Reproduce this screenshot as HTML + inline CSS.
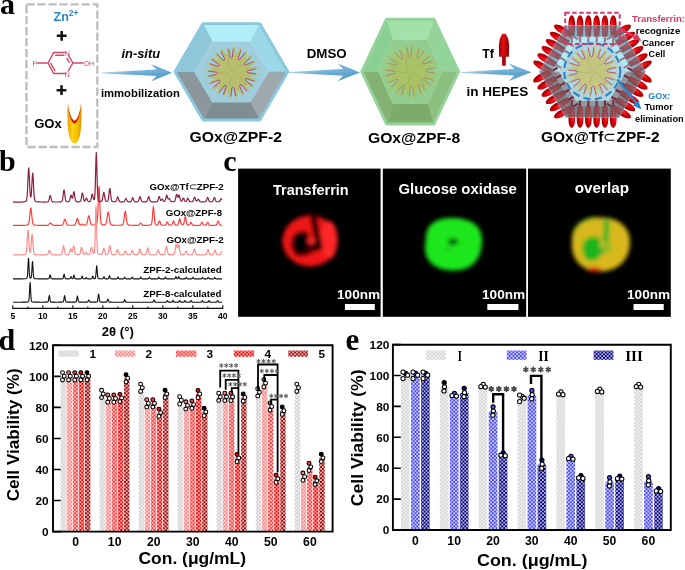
<!DOCTYPE html>
<html><head><meta charset="utf-8"><style>
html,body{margin:0;padding:0;background:#fff;width:685px;height:570px;overflow:hidden}
svg{display:block;will-change:transform}
</style></head><body>
<svg width="685" height="570" viewBox="0 0 685 570">
<defs>
<linearGradient id="gEnz" x1="0" x2="1" y1="0" y2="0">
<stop offset="0" stop-color="#e8a000"/><stop offset="0.35" stop-color="#ffd21a"/><stop offset="0.7" stop-color="#f5c000"/><stop offset="1" stop-color="#d89000"/></linearGradient>
<linearGradient id="gArr" x1="0" x2="1" y1="0" y2="0">
<stop offset="0" stop-color="#b4d8ee"/><stop offset="0.45" stop-color="#78b6dc"/><stop offset="1" stop-color="#66aad4"/></linearGradient>
<linearGradient id="gTf" x1="0" x2="1" y1="0" y2="0">
<stop offset="0" stop-color="#a00008"/><stop offset="0.45" stop-color="#e01010"/><stop offset="1" stop-color="#900008"/></linearGradient>
<radialGradient id="gBul" cx="0.35" cy="0.5" r="0.7">
<stop offset="0" stop-color="#ff3030"/><stop offset="0.45" stop-color="#d80008"/><stop offset="1" stop-color="#880004"/></radialGradient>
<filter id="blur2" x="-30%" y="-30%" width="160%" height="160%"><feGaussianBlur stdDeviation="2.1"/></filter>
<filter id="blur1" x="-30%" y="-30%" width="160%" height="160%"><feGaussianBlur stdDeviation="1.1"/></filter>
<pattern id="pd0" width="3.7" height="3.7" patternUnits="userSpaceOnUse"><rect width="3.7" height="3.7" fill="#d0d0d0"/><rect x="0.15" y="0.15" width="1.55" height="1.55" fill="#fff"/><rect x="2.0" y="2.0" width="1.55" height="1.55" fill="#fff"/></pattern>
<pattern id="pd1" width="3.7" height="3.7" patternUnits="userSpaceOnUse"><rect width="3.7" height="3.7" fill="#ff8080"/><rect x="0.15" y="0.15" width="1.55" height="1.55" fill="#fff"/><rect x="2.0" y="2.0" width="1.55" height="1.55" fill="#fff"/></pattern>
<pattern id="pd2" width="3.7" height="3.7" patternUnits="userSpaceOnUse"><rect width="3.7" height="3.7" fill="#ff3c3c"/><rect x="0.15" y="0.15" width="1.55" height="1.55" fill="#fff"/><rect x="2.0" y="2.0" width="1.55" height="1.55" fill="#fff"/></pattern>
<pattern id="pd3" width="3.7" height="3.7" patternUnits="userSpaceOnUse"><rect width="3.7" height="3.7" fill="#ff0000"/><rect x="0.15" y="0.15" width="1.55" height="1.55" fill="#fff"/><rect x="2.0" y="2.0" width="1.55" height="1.55" fill="#fff"/></pattern>
<pattern id="pd4" width="3.7" height="3.7" patternUnits="userSpaceOnUse"><rect width="3.7" height="3.7" fill="#a00606"/><rect x="0.15" y="0.15" width="1.55" height="1.55" fill="#fff"/><rect x="2.0" y="2.0" width="1.55" height="1.55" fill="#fff"/></pattern>
<pattern id="pe0" width="3.7" height="3.7" patternUnits="userSpaceOnUse"><rect width="3.7" height="3.7" fill="#d4d4d4"/><rect x="0.15" y="0.15" width="1.55" height="1.55" fill="#fff"/><rect x="2.0" y="2.0" width="1.55" height="1.55" fill="#fff"/></pattern>
<pattern id="pe1" width="3.7" height="3.7" patternUnits="userSpaceOnUse"><rect width="3.7" height="3.7" fill="#4a4af4"/><rect x="0.15" y="0.15" width="1.55" height="1.55" fill="#fff"/><rect x="2.0" y="2.0" width="1.55" height="1.55" fill="#fff"/></pattern>
<pattern id="pe2" width="3.7" height="3.7" patternUnits="userSpaceOnUse"><rect width="3.7" height="3.7" fill="#00007e"/><rect x="0.15" y="0.15" width="1.55" height="1.55" fill="#fff"/><rect x="2.0" y="2.0" width="1.55" height="1.55" fill="#fff"/></pattern>
</defs>
<rect width="685" height="570" fill="#fff"/>
<text x="0" y="13.8" font-size="30" fill="#000" text-anchor="start" style="font-family:'Liberation Serif',serif;font-weight:bold" >a</text>
<rect x="26.5" y="4.4" width="70.8" height="142.6" fill="none" stroke="#bdbdbd" stroke-width="2.3" stroke-dasharray="8.2 2.8"/>
<text x="53.5" y="20.8" style="font-family:'Liberation Sans',sans-serif;font-weight:bold" font-size="12.5" fill="#2e86cc">Zn<tspan font-size="8.5" dy="-4.5">2+</tspan></text>
<path d="M56.8 35.8H66.6M61.7 30.9V40.7" stroke="#111" stroke-width="2.5"/>
<path d="M56.6 90.2H66.4M61.5 85.3V95.1" stroke="#111" stroke-width="2.5"/>
<g stroke="#d24a68" stroke-width="1.45" fill="none">
<path d="M48 63L53.7 52.5H65.5M68 54.5L72.8 63L68 71.5M65.5 73.5H53.7L48 63"/>
<path d="M55.2 55.2H64.3M50.6 63.2L55.3 71M69.6 62.8L66.6 57.8"/>
<path d="M36.5 63H48M72.8 63H83.5"/>
</g>
<g style="font-family:'Liberation Sans',sans-serif" font-size="7.6" fill="#d24a68">
<text x="64.6" y="55.6">N</text><text x="64.6" y="77">N</text>
<text x="32.4" y="65.8">F</text><text x="83.4" y="65.8" textLength="10.6" lengthAdjust="spacingAndGlyphs">OH</text>
</g>
<text x="34.2" y="127.6" font-size="12.2" fill="#000" text-anchor="start" style="font-family:'Liberation Sans',sans-serif;font-weight:bold" textLength="27.6" lengthAdjust="spacingAndGlyphs" >GOx</text>
<path d="M67.9 103 C67 115 67.3 131 69.8 138 C71.2 142 72.8 143.6 74.5 143.6 C76.2 143.6 77.8 142 79.2 138 C81.7 131 82 115 81.1 103 C80.3 112 77.8 119.5 74.5 120.8 C71.2 119.5 68.7 112 67.9 103Z" fill="url(#gEnz)"/>
<path d="M67.9 103 C68.7 112 71.2 119.5 74.5 120.8 C77.8 119.5 80.3 112 81.1 103 C80.6 114 78 122.5 74.5 123.8 C71 122.5 68.4 114 67.9 103Z" fill="#dc1414"/>
<path d="M102 72.4 L156.5 69.5 L151 64 Q163.1 69.1 172.2 72.8 Q163.1 76.5 151 81.6 L156.5 76.1 L102 73.2 Z" fill="url(#gArr)"/><path d="M102 72.8 L172.2 72.8 Q163.1 76.5 151 81.6 L156.5 76.1 L102 73.2 Z" fill="#2a6e9e" fill-opacity="0.16"/>
<path d="M288.8 72 L343.2 69.1 L337.7 63.6 Q350.35 68.7 360 72.4 Q350.35 76.1 337.7 81.2 L343.2 75.7 L288.8 72.8 Z" fill="url(#gArr)"/><path d="M288.8 72.4 L360 72.4 Q350.35 76.1 337.7 81.2 L343.2 75.7 L288.8 72.8 Z" fill="#2a6e9e" fill-opacity="0.16"/>
<path d="M461.2 71.9 L514.4 69 L508.9 63.5 Q521.7 68.6 531.5 72.3 Q521.7 76 508.9 81.1 L514.4 75.6 L461.2 72.7 Z" fill="url(#gArr)"/><path d="M461.2 72.3 L531.5 72.3 Q521.7 76 508.9 81.1 L514.4 75.6 L461.2 72.7 Z" fill="#2a6e9e" fill-opacity="0.16"/>
<text x="121.5" y="57.8" style="font-family:'Liberation Sans',sans-serif;font-weight:bold;font-style:italic" font-size="13" textLength="38.6" lengthAdjust="spacingAndGlyphs">in-situ</text>
<text x="100.9" y="97.1" font-size="11.3" fill="#000" text-anchor="start" style="font-family:'Liberation Sans',sans-serif;font-weight:bold" textLength="79" lengthAdjust="spacingAndGlyphs" >immobilization</text>
<text x="306.7" y="57.6" font-size="13.2" fill="#000" text-anchor="start" style="font-family:'Liberation Sans',sans-serif;font-weight:bold" textLength="40" lengthAdjust="spacingAndGlyphs" >DMSO</text>
<text x="482.2" y="57.8" font-size="13.5" fill="#000" text-anchor="start" style="font-family:'Liberation Sans',sans-serif;font-weight:bold" textLength="11.8" lengthAdjust="spacingAndGlyphs" >Tf</text>
<text x="466.4" y="96" font-size="13.5" fill="#000" text-anchor="start" style="font-family:'Liberation Sans',sans-serif;font-weight:bold" textLength="61.8" lengthAdjust="spacingAndGlyphs" >in HEPES</text>
<path d="M499.1 56.8 L498.9 47 C498.9 39.5 501.2 33.6 504 33.6 C506.8 33.6 509.1 39.5 509.1 47 L508.9 56.8 Z" fill="url(#gTf)"/>
<rect x="502.1" y="56" width="3.7" height="9.7" fill="#b00010"/>
<polygon points="203.1,23.6 259.7,23.6 250.4,41.4 212.4,41.4" fill="#b0eef8" stroke="#b0eef8" stroke-width="0.4"/>
<polygon points="259.7,23.6 287.8,71.8 268.7,71.8 250.4,41.4" fill="#9ad8ea" stroke="#9ad8ea" stroke-width="0.4"/>
<polygon points="287.8,71.8 259.7,120 250.4,102.2 268.7,71.8" fill="#9ea8ae" stroke="#9ea8ae" stroke-width="0.4"/>
<polygon points="259.7,120 203.1,120 212.4,102.2 250.4,102.2" fill="#7e8c93" stroke="#7e8c93" stroke-width="0.4"/>
<polygon points="203.1,120 175,71.8 194.1,71.8 212.4,102.2" fill="#8b979d" stroke="#8b979d" stroke-width="0.4"/>
<polygon points="175,71.8 203.1,23.6 212.4,41.4 194.1,71.8" fill="#8ec6da" stroke="#8ec6da" stroke-width="0.4"/>
<polygon points="212.4,41.4 250.4,41.4 268.7,71.8 250.4,102.2 212.4,102.2 194.1,71.8" fill="#a0cddd" />
<polygon points="203.1,23.6 259.7,23.6 287.8,71.8 259.7,120 203.1,120 175,71.8" fill="none" stroke="#8ac8de" stroke-width="2.9" stroke-linejoin="round"/>
<polygon points="226.52,55.18 226.64,51.19 226.8,45.41 228.75,48.23 229.83,53.64 230.42,56.99 231.39,58.32 232.22,56.9 232.48,53.5 233.01,48.02 234.67,45.02 235.4,50.75 235.93,54.71 238.03,51.31 241.06,46.39 241.33,49.81 239.57,55.03 238.4,58.23 238.58,59.86 240,59.05 241.92,56.24 245.13,51.75 248.06,49.98 245.84,55.31 244.31,59 247.83,57.12 252.91,54.37 251.44,57.46 247.3,61.1 244.69,63.29 244.03,64.79 245.67,64.8 248.74,63.33 253.76,61.05 257.18,60.98 252.59,64.49 249.42,66.92 253.41,67.04 259.19,67.2 256.37,69.15 250.96,70.23 247.61,70.82 246.28,71.79 247.7,72.62 251.1,72.88 256.58,73.41 259.58,75.07 253.85,75.8 249.89,76.33 253.29,78.43 258.21,81.46 254.79,81.73 249.57,79.97 246.37,78.8 244.74,78.98 245.55,80.4 248.36,82.32 252.85,85.53 254.62,88.46 249.29,86.24 245.6,84.71 247.48,88.23 250.23,93.31 247.14,91.84 243.5,87.7 241.31,85.09 239.81,84.43 239.8,86.07 241.27,89.14 243.55,94.16 243.62,97.58 240.11,92.99 237.68,89.82 237.56,93.81 237.4,99.59 235.45,96.77 234.37,91.36 233.78,88.01 232.81,86.68 231.98,88.1 231.72,91.5 231.19,96.98 229.53,99.98 228.8,94.25 228.27,90.29 226.17,93.69 223.14,98.61 222.87,95.19 224.63,89.97 225.8,86.77 225.62,85.14 224.2,85.95 222.28,88.76 219.07,93.25 216.14,95.02 218.36,89.69 219.89,86 216.37,87.88 211.29,90.63 212.76,87.54 216.9,83.9 219.51,81.71 220.17,80.21 218.53,80.2 215.46,81.67 210.44,83.95 207.02,84.02 211.61,80.51 214.78,78.08 210.79,77.96 205.01,77.8 207.83,75.85 213.24,74.77 216.59,74.18 217.92,73.21 216.5,72.38 213.1,72.12 207.62,71.59 204.62,69.93 210.35,69.2 214.31,68.67 210.91,66.57 205.99,63.54 209.41,63.27 214.63,65.03 217.83,66.2 219.46,66.02 218.65,64.6 215.84,62.68 211.35,59.47 209.58,56.54 214.91,58.76 218.6,60.29 216.72,56.77 213.97,51.69 217.06,53.16 220.7,57.3 222.89,59.91 224.39,60.57 224.4,58.93 222.93,55.86 220.65,50.84 220.58,47.42 224.09,52.01" fill="#b9bd6e" />
<polyline points="228.64,49.26 229.57,53.67 230.24,57.01 231.37,57.92 232.41,56.9 232.74,53.51 233.22,49.03" stroke="#ae4a78" stroke-width="1" fill="none" stroke-linejoin="round" stroke-linecap="round"/>
<polyline points="240.73,50.64 239.32,54.93 238.23,58.15 238.76,59.51 240.17,59.15 242.15,56.38 244.81,52.73" stroke="#ae4a78" stroke-width="1" fill="none" stroke-linejoin="round" stroke-linecap="round"/>
<polyline points="250.5,57.88 247.14,60.89 244.58,63.14 244.36,64.58 245.76,64.97 248.87,63.56 252.99,61.73" stroke="#ae4a78" stroke-width="1" fill="none" stroke-linejoin="round" stroke-linecap="round"/>
<polyline points="255.34,69.04 250.93,69.97 247.59,70.64 246.68,71.77 247.7,72.81 251.09,73.14 255.57,73.62" stroke="#ae4a78" stroke-width="1" fill="none" stroke-linejoin="round" stroke-linecap="round"/>
<polyline points="253.96,81.13 249.67,79.72 246.45,78.63 245.09,79.16 245.45,80.57 248.22,82.55 251.87,85.21" stroke="#ae4a78" stroke-width="1" fill="none" stroke-linejoin="round" stroke-linecap="round"/>
<polyline points="246.72,90.9 243.71,87.54 241.46,84.98 240.02,84.76 239.63,86.16 241.04,89.27 242.87,93.39" stroke="#ae4a78" stroke-width="1" fill="none" stroke-linejoin="round" stroke-linecap="round"/>
<polyline points="235.56,95.74 234.63,91.33 233.96,87.99 232.83,87.08 231.79,88.1 231.46,91.49 230.98,95.97" stroke="#ae4a78" stroke-width="1" fill="none" stroke-linejoin="round" stroke-linecap="round"/>
<polyline points="223.47,94.36 224.88,90.07 225.97,86.85 225.44,85.49 224.03,85.85 222.05,88.62 219.39,92.27" stroke="#ae4a78" stroke-width="1" fill="none" stroke-linejoin="round" stroke-linecap="round"/>
<polyline points="213.7,87.12 217.06,84.11 219.62,81.86 219.84,80.42 218.44,80.03 215.33,81.44 211.21,83.27" stroke="#ae4a78" stroke-width="1" fill="none" stroke-linejoin="round" stroke-linecap="round"/>
<polyline points="208.86,75.96 213.27,75.03 216.61,74.36 217.52,73.23 216.5,72.19 213.11,71.86 208.63,71.38" stroke="#ae4a78" stroke-width="1" fill="none" stroke-linejoin="round" stroke-linecap="round"/>
<polyline points="210.24,63.87 214.53,65.28 217.75,66.37 219.11,65.84 218.75,64.43 215.98,62.45 212.33,59.79" stroke="#ae4a78" stroke-width="1" fill="none" stroke-linejoin="round" stroke-linecap="round"/>
<polyline points="217.48,54.1 220.49,57.46 222.74,60.02 224.18,60.24 224.57,58.84 223.16,55.73 221.33,51.61" stroke="#ae4a78" stroke-width="1" fill="none" stroke-linejoin="round" stroke-linecap="round"/>
<path d="M234.01 73.09 Q243.37 76.61 245.96 88.28" stroke="#8aa860" stroke-width="0.7" fill="none" opacity="0.6"/>
<path d="M232.13 74.5 Q231.67 84.49 221.38 90.56" stroke="#8aa860" stroke-width="0.7" fill="none" opacity="0.6"/>
<path d="M230.21 73.14 Q220.56 75.8 211.61 67.88" stroke="#8aa860" stroke-width="0.7" fill="none" opacity="0.6"/>
<path d="M230.9 70.9 Q225.4 62.55 230.16 51.59" stroke="#8aa860" stroke-width="0.7" fill="none" opacity="0.6"/>
<path d="M233.25 70.87 Q239.5 63.05 251.39 64.19" stroke="#8aa860" stroke-width="0.7" fill="none" opacity="0.6"/>
<text x="189.6" y="142.1" font-size="15" fill="#000" text-anchor="start" style="font-family:'Liberation Sans',sans-serif;font-weight:bold" textLength="92.4" lengthAdjust="spacingAndGlyphs" >GOx@ZPF-2</text>
<polygon points="386.5,19.2 433.9,19.2 427.7,39.8 392.7,39.8" fill="#a2e2aa" stroke="#a2e2aa" stroke-width="0.4"/>
<polygon points="433.9,19.2 458.6,71.6 442,71.6 427.7,39.8" fill="#92d49a" stroke="#92d49a" stroke-width="0.4"/>
<polygon points="458.6,71.6 433.9,124 427.7,103.4 442,71.6" fill="#8cbf80" stroke="#8cbf80" stroke-width="0.4"/>
<polygon points="433.9,124 386.5,124 392.7,103.4 427.7,103.4" fill="#7cab6c" stroke="#7cab6c" stroke-width="0.4"/>
<polygon points="386.5,124 361.8,71.6 378.4,71.6 392.7,103.4" fill="#84b274" stroke="#84b274" stroke-width="0.4"/>
<polygon points="361.8,71.6 386.5,19.2 392.7,39.8 378.4,71.6" fill="#8ccf92" stroke="#8ccf92" stroke-width="0.4"/>
<polygon points="392.7,39.8 427.7,39.8 442,71.6 427.7,103.4 392.7,103.4 378.4,71.6" fill="#93cd8f" />
<polygon points="386.5,19.2 433.9,19.2 458.6,71.6 433.9,124 386.5,124 361.8,71.6" fill="none" stroke="#94d49c" stroke-width="2.9" stroke-linejoin="round"/>
<polygon points="404.81,53.93 404.93,49.86 405.1,43.97 407.08,46.85 408.18,52.36 408.79,55.78 409.78,57.13 410.62,55.69 410.88,52.22 411.43,46.63 413.12,43.57 413.87,49.41 414.4,53.45 416.55,49.99 419.64,44.97 419.92,48.45 418.11,53.78 416.93,57.05 417.11,58.71 418.56,57.88 420.52,55.01 423.79,50.44 426.78,48.63 424.51,54.07 422.95,57.83 426.54,55.91 431.73,53.11 430.23,56.26 426.01,59.97 423.35,62.21 422.67,63.74 424.34,63.75 427.47,62.24 432.59,59.92 436.08,59.85 431.4,63.43 428.17,65.91 432.24,66.03 438.13,66.2 435.25,68.18 429.74,69.28 426.32,69.89 424.97,70.88 426.41,71.72 429.88,71.98 435.47,72.53 438.53,74.22 432.69,74.97 428.65,75.5 432.11,77.65 437.13,80.74 433.65,81.02 428.32,79.21 425.05,78.03 423.39,78.21 424.22,79.66 427.09,81.62 431.66,84.89 433.47,87.88 428.03,85.61 424.27,84.05 426.19,87.64 428.99,92.83 425.84,91.33 422.13,87.11 419.89,84.45 418.36,83.77 418.35,85.44 419.86,88.57 422.18,93.69 422.25,97.18 418.67,92.5 416.19,89.27 416.07,93.34 415.9,99.23 413.92,96.35 412.82,90.84 412.21,87.42 411.22,86.07 410.38,87.51 410.12,90.98 409.57,96.57 407.88,99.63 407.13,93.79 406.6,89.75 404.45,93.21 401.36,98.23 401.08,94.75 402.89,89.42 404.07,86.15 403.89,84.49 402.44,85.32 400.48,88.19 397.21,92.76 394.22,94.57 396.49,89.13 398.05,85.37 394.46,87.29 389.27,90.09 390.77,86.94 394.99,83.23 397.65,80.99 398.33,79.46 396.66,79.45 393.53,80.96 388.41,83.28 384.92,83.35 389.6,79.77 392.83,77.29 388.76,77.17 382.87,77 385.75,75.02 391.26,73.92 394.68,73.31 396.03,72.32 394.59,71.48 391.12,71.22 385.53,70.67 382.47,68.98 388.31,68.23 392.35,67.7 388.89,65.55 383.87,62.46 387.35,62.18 392.68,63.99 395.95,65.17 397.61,64.99 396.78,63.54 393.91,61.58 389.34,58.31 387.53,55.32 392.97,57.59 396.73,59.15 394.81,55.56 392.01,50.37 395.16,51.87 398.87,56.09 401.11,58.75 402.64,59.43 402.65,57.76 401.14,54.63 398.82,49.51 398.75,46.02 402.33,50.7" fill="#a8c266" />
<polyline points="406.97,47.89 407.92,52.39 408.6,55.8 409.76,56.73 410.82,55.69 411.15,52.23 411.64,47.66" stroke="#a88c70" stroke-width="1" fill="none" stroke-linejoin="round" stroke-linecap="round"/>
<polyline points="419.3,49.3 417.86,53.67 416.75,56.97 417.29,58.35 418.73,57.98 420.75,55.15 423.46,51.44" stroke="#a88c70" stroke-width="1" fill="none" stroke-linejoin="round" stroke-linecap="round"/>
<polyline points="429.27,56.69 425.84,59.76 423.23,62.05 423.01,63.52 424.44,63.92 427.6,62.48 431.81,60.62" stroke="#a88c70" stroke-width="1" fill="none" stroke-linejoin="round" stroke-linecap="round"/>
<polyline points="434.21,68.07 429.71,69.02 426.3,69.7 425.37,70.86 426.41,71.92 429.87,72.25 434.44,72.74" stroke="#a88c70" stroke-width="1" fill="none" stroke-linejoin="round" stroke-linecap="round"/>
<polyline points="432.8,80.4 428.43,78.96 425.13,77.85 423.75,78.39 424.12,79.83 426.95,81.85 430.66,84.56" stroke="#a88c70" stroke-width="1" fill="none" stroke-linejoin="round" stroke-linecap="round"/>
<polyline points="425.41,90.37 422.34,86.94 420.05,84.33 418.58,84.11 418.18,85.54 419.62,88.7 421.48,92.91" stroke="#a88c70" stroke-width="1" fill="none" stroke-linejoin="round" stroke-linecap="round"/>
<polyline points="414.03,95.31 413.08,90.81 412.4,87.4 411.24,86.47 410.18,87.51 409.85,90.97 409.36,95.54" stroke="#a88c70" stroke-width="1" fill="none" stroke-linejoin="round" stroke-linecap="round"/>
<polyline points="401.7,93.9 403.14,89.53 404.25,86.23 403.71,84.85 402.27,85.22 400.25,88.05 397.54,91.76" stroke="#a88c70" stroke-width="1" fill="none" stroke-linejoin="round" stroke-linecap="round"/>
<polyline points="391.73,86.51 395.16,83.44 397.77,81.15 397.99,79.68 396.56,79.28 393.4,80.72 389.19,82.58" stroke="#a88c70" stroke-width="1" fill="none" stroke-linejoin="round" stroke-linecap="round"/>
<polyline points="386.79,75.13 391.29,74.18 394.7,73.5 395.63,72.34 394.59,71.28 391.13,70.95 386.56,70.46" stroke="#a88c70" stroke-width="1" fill="none" stroke-linejoin="round" stroke-linecap="round"/>
<polyline points="388.2,62.8 392.57,64.24 395.87,65.35 397.25,64.81 396.88,63.37 394.05,61.35 390.34,58.64" stroke="#a88c70" stroke-width="1" fill="none" stroke-linejoin="round" stroke-linecap="round"/>
<polyline points="395.59,52.83 398.66,56.26 400.95,58.87 402.42,59.09 402.82,57.66 401.38,54.5 399.52,50.29" stroke="#a88c70" stroke-width="1" fill="none" stroke-linejoin="round" stroke-linecap="round"/>
<path d="M412.41 72.19 Q422 75.8 424.64 87.69" stroke="#86a858" stroke-width="0.7" fill="none" opacity="0.6"/>
<path d="M410.53 73.6 Q410.06 83.83 399.56 90.02" stroke="#86a858" stroke-width="0.7" fill="none" opacity="0.6"/>
<path d="M408.61 72.24 Q398.73 74.96 389.6 66.89" stroke="#86a858" stroke-width="0.7" fill="none" opacity="0.6"/>
<path d="M409.3 70 Q403.66 61.45 408.52 50.27" stroke="#86a858" stroke-width="0.7" fill="none" opacity="0.6"/>
<path d="M411.65 69.97 Q418.04 61.96 430.17 63.13" stroke="#86a858" stroke-width="0.7" fill="none" opacity="0.6"/>
<text x="367.9" y="143.4" font-size="15" fill="#000" text-anchor="start" style="font-family:'Liberation Sans',sans-serif;font-weight:bold" textLength="92.3" lengthAdjust="spacingAndGlyphs" >GOx@ZPF-8</text>
<polygon points="566,25.6 619,25.6 645.5,71.5 619,117.4 566,117.4 539.5,71.5" fill="#b2eaf6" />
<polygon points="645.5,71.5 619,117.4 566,117.4 539.5,71.5 559,71.5 575.75,100.51 609.25,100.51 626,71.5" fill="#8f999f" />
<g transform="translate(571.75 25.6) rotate(0)"><path d="M-3.3 -1.5 C-3.3 -7.5 -1.6 -10.3 0 -10.3 C1.6 -10.3 3.3 -7.5 3.3 -1.5 L3.3 0 C3.3 3 2.6 8.5 2.6 11 L-2.6 11 C-2.6 8.5 -3.3 3 -3.3 0Z" fill="url(#gBul)"/></g>
<g transform="translate(580.05 25.6) rotate(0)"><path d="M-3.3 -1.5 C-3.3 -7.5 -1.6 -10.3 0 -10.3 C1.6 -10.3 3.3 -7.5 3.3 -1.5 L3.3 0 C3.3 3 2.6 8.5 2.6 11 L-2.6 11 C-2.6 8.5 -3.3 3 -3.3 0Z" fill="url(#gBul)"/></g>
<g transform="translate(588.35 25.6) rotate(0)"><path d="M-3.3 -1.5 C-3.3 -7.5 -1.6 -10.3 0 -10.3 C1.6 -10.3 3.3 -7.5 3.3 -1.5 L3.3 0 C3.3 3 2.6 8.5 2.6 11 L-2.6 11 C-2.6 8.5 -3.3 3 -3.3 0Z" fill="url(#gBul)"/></g>
<g transform="translate(596.65 25.6) rotate(0)"><path d="M-3.3 -1.5 C-3.3 -7.5 -1.6 -10.3 0 -10.3 C1.6 -10.3 3.3 -7.5 3.3 -1.5 L3.3 0 C3.3 3 2.6 8.5 2.6 11 L-2.6 11 C-2.6 8.5 -3.3 3 -3.3 0Z" fill="url(#gBul)"/></g>
<g transform="translate(604.95 25.6) rotate(0)"><path d="M-3.3 -1.5 C-3.3 -7.5 -1.6 -10.3 0 -10.3 C1.6 -10.3 3.3 -7.5 3.3 -1.5 L3.3 0 C3.3 3 2.6 8.5 2.6 11 L-2.6 11 C-2.6 8.5 -3.3 3 -3.3 0Z" fill="url(#gBul)"/></g>
<g transform="translate(613.25 25.6) rotate(0)"><path d="M-3.3 -1.5 C-3.3 -7.5 -1.6 -10.3 0 -10.3 C1.6 -10.3 3.3 -7.5 3.3 -1.5 L3.3 0 C3.3 3 2.6 8.5 2.6 11 L-2.6 11 C-2.6 8.5 -3.3 3 -3.3 0Z" fill="url(#gBul)"/></g>
<g transform="translate(621.88 30.58) rotate(60)"><path d="M-3.3 -1.5 C-3.3 -7.5 -1.6 -10.3 0 -10.3 C1.6 -10.3 3.3 -7.5 3.3 -1.5 L3.3 0 C3.3 3 2.6 8.5 2.6 11 L-2.6 11 C-2.6 8.5 -3.3 3 -3.3 0Z" fill="url(#gBul)"/></g>
<g transform="translate(626.02 37.77) rotate(60)"><path d="M-3.3 -1.5 C-3.3 -7.5 -1.6 -10.3 0 -10.3 C1.6 -10.3 3.3 -7.5 3.3 -1.5 L3.3 0 C3.3 3 2.6 8.5 2.6 11 L-2.6 11 C-2.6 8.5 -3.3 3 -3.3 0Z" fill="url(#gBul)"/></g>
<g transform="translate(630.17 44.96) rotate(60)"><path d="M-3.3 -1.5 C-3.3 -7.5 -1.6 -10.3 0 -10.3 C1.6 -10.3 3.3 -7.5 3.3 -1.5 L3.3 0 C3.3 3 2.6 8.5 2.6 11 L-2.6 11 C-2.6 8.5 -3.3 3 -3.3 0Z" fill="url(#gBul)"/></g>
<g transform="translate(634.33 52.14) rotate(60)"><path d="M-3.3 -1.5 C-3.3 -7.5 -1.6 -10.3 0 -10.3 C1.6 -10.3 3.3 -7.5 3.3 -1.5 L3.3 0 C3.3 3 2.6 8.5 2.6 11 L-2.6 11 C-2.6 8.5 -3.3 3 -3.3 0Z" fill="url(#gBul)"/></g>
<g transform="translate(638.48 59.33) rotate(60)"><path d="M-3.3 -1.5 C-3.3 -7.5 -1.6 -10.3 0 -10.3 C1.6 -10.3 3.3 -7.5 3.3 -1.5 L3.3 0 C3.3 3 2.6 8.5 2.6 11 L-2.6 11 C-2.6 8.5 -3.3 3 -3.3 0Z" fill="url(#gBul)"/></g>
<g transform="translate(642.62 66.52) rotate(60)"><path d="M-3.3 -1.5 C-3.3 -7.5 -1.6 -10.3 0 -10.3 C1.6 -10.3 3.3 -7.5 3.3 -1.5 L3.3 0 C3.3 3 2.6 8.5 2.6 11 L-2.6 11 C-2.6 8.5 -3.3 3 -3.3 0Z" fill="url(#gBul)"/></g>
<g transform="translate(642.62 76.48) rotate(120)"><path d="M-3.3 -1.5 C-3.3 -7.5 -1.6 -10.3 0 -10.3 C1.6 -10.3 3.3 -7.5 3.3 -1.5 L3.3 0 C3.3 3 2.6 8.5 2.6 11 L-2.6 11 C-2.6 8.5 -3.3 3 -3.3 0Z" fill="url(#gBul)"/></g>
<g transform="translate(638.48 83.67) rotate(120)"><path d="M-3.3 -1.5 C-3.3 -7.5 -1.6 -10.3 0 -10.3 C1.6 -10.3 3.3 -7.5 3.3 -1.5 L3.3 0 C3.3 3 2.6 8.5 2.6 11 L-2.6 11 C-2.6 8.5 -3.3 3 -3.3 0Z" fill="url(#gBul)"/></g>
<g transform="translate(634.33 90.86) rotate(120)"><path d="M-3.3 -1.5 C-3.3 -7.5 -1.6 -10.3 0 -10.3 C1.6 -10.3 3.3 -7.5 3.3 -1.5 L3.3 0 C3.3 3 2.6 8.5 2.6 11 L-2.6 11 C-2.6 8.5 -3.3 3 -3.3 0Z" fill="url(#gBul)"/></g>
<g transform="translate(630.17 98.04) rotate(120)"><path d="M-3.3 -1.5 C-3.3 -7.5 -1.6 -10.3 0 -10.3 C1.6 -10.3 3.3 -7.5 3.3 -1.5 L3.3 0 C3.3 3 2.6 8.5 2.6 11 L-2.6 11 C-2.6 8.5 -3.3 3 -3.3 0Z" fill="url(#gBul)"/></g>
<g transform="translate(626.02 105.23) rotate(120)"><path d="M-3.3 -1.5 C-3.3 -7.5 -1.6 -10.3 0 -10.3 C1.6 -10.3 3.3 -7.5 3.3 -1.5 L3.3 0 C3.3 3 2.6 8.5 2.6 11 L-2.6 11 C-2.6 8.5 -3.3 3 -3.3 0Z" fill="url(#gBul)"/></g>
<g transform="translate(621.88 112.42) rotate(120)"><path d="M-3.3 -1.5 C-3.3 -7.5 -1.6 -10.3 0 -10.3 C1.6 -10.3 3.3 -7.5 3.3 -1.5 L3.3 0 C3.3 3 2.6 8.5 2.6 11 L-2.6 11 C-2.6 8.5 -3.3 3 -3.3 0Z" fill="url(#gBul)"/></g>
<g transform="translate(613.25 117.4) rotate(180)"><path d="M-3.3 -1.5 C-3.3 -7.5 -1.6 -10.3 0 -10.3 C1.6 -10.3 3.3 -7.5 3.3 -1.5 L3.3 0 C3.3 3 2.6 8.5 2.6 11 L-2.6 11 C-2.6 8.5 -3.3 3 -3.3 0Z" fill="url(#gBul)"/></g>
<g transform="translate(604.95 117.4) rotate(180)"><path d="M-3.3 -1.5 C-3.3 -7.5 -1.6 -10.3 0 -10.3 C1.6 -10.3 3.3 -7.5 3.3 -1.5 L3.3 0 C3.3 3 2.6 8.5 2.6 11 L-2.6 11 C-2.6 8.5 -3.3 3 -3.3 0Z" fill="url(#gBul)"/></g>
<g transform="translate(596.65 117.4) rotate(180)"><path d="M-3.3 -1.5 C-3.3 -7.5 -1.6 -10.3 0 -10.3 C1.6 -10.3 3.3 -7.5 3.3 -1.5 L3.3 0 C3.3 3 2.6 8.5 2.6 11 L-2.6 11 C-2.6 8.5 -3.3 3 -3.3 0Z" fill="url(#gBul)"/></g>
<g transform="translate(588.35 117.4) rotate(180)"><path d="M-3.3 -1.5 C-3.3 -7.5 -1.6 -10.3 0 -10.3 C1.6 -10.3 3.3 -7.5 3.3 -1.5 L3.3 0 C3.3 3 2.6 8.5 2.6 11 L-2.6 11 C-2.6 8.5 -3.3 3 -3.3 0Z" fill="url(#gBul)"/></g>
<g transform="translate(580.05 117.4) rotate(180)"><path d="M-3.3 -1.5 C-3.3 -7.5 -1.6 -10.3 0 -10.3 C1.6 -10.3 3.3 -7.5 3.3 -1.5 L3.3 0 C3.3 3 2.6 8.5 2.6 11 L-2.6 11 C-2.6 8.5 -3.3 3 -3.3 0Z" fill="url(#gBul)"/></g>
<g transform="translate(571.75 117.4) rotate(180)"><path d="M-3.3 -1.5 C-3.3 -7.5 -1.6 -10.3 0 -10.3 C1.6 -10.3 3.3 -7.5 3.3 -1.5 L3.3 0 C3.3 3 2.6 8.5 2.6 11 L-2.6 11 C-2.6 8.5 -3.3 3 -3.3 0Z" fill="url(#gBul)"/></g>
<g transform="translate(563.12 112.42) rotate(240)"><path d="M-3.3 -1.5 C-3.3 -7.5 -1.6 -10.3 0 -10.3 C1.6 -10.3 3.3 -7.5 3.3 -1.5 L3.3 0 C3.3 3 2.6 8.5 2.6 11 L-2.6 11 C-2.6 8.5 -3.3 3 -3.3 0Z" fill="url(#gBul)"/></g>
<g transform="translate(558.98 105.23) rotate(240)"><path d="M-3.3 -1.5 C-3.3 -7.5 -1.6 -10.3 0 -10.3 C1.6 -10.3 3.3 -7.5 3.3 -1.5 L3.3 0 C3.3 3 2.6 8.5 2.6 11 L-2.6 11 C-2.6 8.5 -3.3 3 -3.3 0Z" fill="url(#gBul)"/></g>
<g transform="translate(554.83 98.04) rotate(240)"><path d="M-3.3 -1.5 C-3.3 -7.5 -1.6 -10.3 0 -10.3 C1.6 -10.3 3.3 -7.5 3.3 -1.5 L3.3 0 C3.3 3 2.6 8.5 2.6 11 L-2.6 11 C-2.6 8.5 -3.3 3 -3.3 0Z" fill="url(#gBul)"/></g>
<g transform="translate(550.67 90.86) rotate(240)"><path d="M-3.3 -1.5 C-3.3 -7.5 -1.6 -10.3 0 -10.3 C1.6 -10.3 3.3 -7.5 3.3 -1.5 L3.3 0 C3.3 3 2.6 8.5 2.6 11 L-2.6 11 C-2.6 8.5 -3.3 3 -3.3 0Z" fill="url(#gBul)"/></g>
<g transform="translate(546.52 83.67) rotate(240)"><path d="M-3.3 -1.5 C-3.3 -7.5 -1.6 -10.3 0 -10.3 C1.6 -10.3 3.3 -7.5 3.3 -1.5 L3.3 0 C3.3 3 2.6 8.5 2.6 11 L-2.6 11 C-2.6 8.5 -3.3 3 -3.3 0Z" fill="url(#gBul)"/></g>
<g transform="translate(542.38 76.48) rotate(240)"><path d="M-3.3 -1.5 C-3.3 -7.5 -1.6 -10.3 0 -10.3 C1.6 -10.3 3.3 -7.5 3.3 -1.5 L3.3 0 C3.3 3 2.6 8.5 2.6 11 L-2.6 11 C-2.6 8.5 -3.3 3 -3.3 0Z" fill="url(#gBul)"/></g>
<g transform="translate(542.38 66.52) rotate(300)"><path d="M-3.3 -1.5 C-3.3 -7.5 -1.6 -10.3 0 -10.3 C1.6 -10.3 3.3 -7.5 3.3 -1.5 L3.3 0 C3.3 3 2.6 8.5 2.6 11 L-2.6 11 C-2.6 8.5 -3.3 3 -3.3 0Z" fill="url(#gBul)"/></g>
<g transform="translate(546.52 59.33) rotate(300)"><path d="M-3.3 -1.5 C-3.3 -7.5 -1.6 -10.3 0 -10.3 C1.6 -10.3 3.3 -7.5 3.3 -1.5 L3.3 0 C3.3 3 2.6 8.5 2.6 11 L-2.6 11 C-2.6 8.5 -3.3 3 -3.3 0Z" fill="url(#gBul)"/></g>
<g transform="translate(550.67 52.14) rotate(300)"><path d="M-3.3 -1.5 C-3.3 -7.5 -1.6 -10.3 0 -10.3 C1.6 -10.3 3.3 -7.5 3.3 -1.5 L3.3 0 C3.3 3 2.6 8.5 2.6 11 L-2.6 11 C-2.6 8.5 -3.3 3 -3.3 0Z" fill="url(#gBul)"/></g>
<g transform="translate(554.83 44.96) rotate(300)"><path d="M-3.3 -1.5 C-3.3 -7.5 -1.6 -10.3 0 -10.3 C1.6 -10.3 3.3 -7.5 3.3 -1.5 L3.3 0 C3.3 3 2.6 8.5 2.6 11 L-2.6 11 C-2.6 8.5 -3.3 3 -3.3 0Z" fill="url(#gBul)"/></g>
<g transform="translate(558.98 37.77) rotate(300)"><path d="M-3.3 -1.5 C-3.3 -7.5 -1.6 -10.3 0 -10.3 C1.6 -10.3 3.3 -7.5 3.3 -1.5 L3.3 0 C3.3 3 2.6 8.5 2.6 11 L-2.6 11 C-2.6 8.5 -3.3 3 -3.3 0Z" fill="url(#gBul)"/></g>
<g transform="translate(563.12 30.58) rotate(300)"><path d="M-3.3 -1.5 C-3.3 -7.5 -1.6 -10.3 0 -10.3 C1.6 -10.3 3.3 -7.5 3.3 -1.5 L3.3 0 C3.3 3 2.6 8.5 2.6 11 L-2.6 11 C-2.6 8.5 -3.3 3 -3.3 0Z" fill="url(#gBul)"/></g>
<g transform="translate(571.75 25.6) rotate(0)"><rect x="-1.1" y="10" width="2.2" height="7.5" fill="#9a7c8c"/></g>
<g transform="translate(580.05 25.6) rotate(0)"><rect x="-1.1" y="10" width="2.2" height="7.5" fill="#9a7c8c"/></g>
<g transform="translate(588.35 25.6) rotate(0)"><rect x="-1.1" y="10" width="2.2" height="7.5" fill="#9a7c8c"/></g>
<g transform="translate(596.65 25.6) rotate(0)"><rect x="-1.1" y="10" width="2.2" height="7.5" fill="#9a7c8c"/></g>
<g transform="translate(604.95 25.6) rotate(0)"><rect x="-1.1" y="10" width="2.2" height="7.5" fill="#9a7c8c"/></g>
<g transform="translate(613.25 25.6) rotate(0)"><rect x="-1.1" y="10" width="2.2" height="7.5" fill="#9a7c8c"/></g>
<g transform="translate(621.88 30.58) rotate(60)"><rect x="-1.1" y="10" width="2.2" height="7.5" fill="#9a7c8c"/></g>
<g transform="translate(626.02 37.77) rotate(60)"><rect x="-1.1" y="10" width="2.2" height="7.5" fill="#9a7c8c"/></g>
<g transform="translate(630.17 44.96) rotate(60)"><rect x="-1.1" y="10" width="2.2" height="7.5" fill="#9a7c8c"/></g>
<g transform="translate(634.33 52.14) rotate(60)"><rect x="-1.1" y="10" width="2.2" height="7.5" fill="#9a7c8c"/></g>
<g transform="translate(638.48 59.33) rotate(60)"><rect x="-1.1" y="10" width="2.2" height="7.5" fill="#9a7c8c"/></g>
<g transform="translate(642.62 66.52) rotate(60)"><rect x="-1.1" y="10" width="2.2" height="7.5" fill="#9a7c8c"/></g>
<g transform="translate(642.62 76.48) rotate(120)"><rect x="-1.1" y="10" width="2.2" height="7.5" fill="#7c2c3c"/></g>
<g transform="translate(638.48 83.67) rotate(120)"><rect x="-1.1" y="10" width="2.2" height="7.5" fill="#7c2c3c"/></g>
<g transform="translate(634.33 90.86) rotate(120)"><rect x="-1.1" y="10" width="2.2" height="7.5" fill="#7c2c3c"/></g>
<g transform="translate(630.17 98.04) rotate(120)"><rect x="-1.1" y="10" width="2.2" height="7.5" fill="#7c2c3c"/></g>
<g transform="translate(626.02 105.23) rotate(120)"><rect x="-1.1" y="10" width="2.2" height="7.5" fill="#7c2c3c"/></g>
<g transform="translate(621.88 112.42) rotate(120)"><rect x="-1.1" y="10" width="2.2" height="7.5" fill="#7c2c3c"/></g>
<g transform="translate(613.25 117.4) rotate(180)"><rect x="-1.1" y="10" width="2.2" height="7.5" fill="#7c2c3c"/></g>
<g transform="translate(604.95 117.4) rotate(180)"><rect x="-1.1" y="10" width="2.2" height="7.5" fill="#7c2c3c"/></g>
<g transform="translate(596.65 117.4) rotate(180)"><rect x="-1.1" y="10" width="2.2" height="7.5" fill="#7c2c3c"/></g>
<g transform="translate(588.35 117.4) rotate(180)"><rect x="-1.1" y="10" width="2.2" height="7.5" fill="#7c2c3c"/></g>
<g transform="translate(580.05 117.4) rotate(180)"><rect x="-1.1" y="10" width="2.2" height="7.5" fill="#7c2c3c"/></g>
<g transform="translate(571.75 117.4) rotate(180)"><rect x="-1.1" y="10" width="2.2" height="7.5" fill="#7c2c3c"/></g>
<g transform="translate(563.12 112.42) rotate(240)"><rect x="-1.1" y="10" width="2.2" height="7.5" fill="#7c2c3c"/></g>
<g transform="translate(558.98 105.23) rotate(240)"><rect x="-1.1" y="10" width="2.2" height="7.5" fill="#7c2c3c"/></g>
<g transform="translate(554.83 98.04) rotate(240)"><rect x="-1.1" y="10" width="2.2" height="7.5" fill="#7c2c3c"/></g>
<g transform="translate(550.67 90.86) rotate(240)"><rect x="-1.1" y="10" width="2.2" height="7.5" fill="#7c2c3c"/></g>
<g transform="translate(546.52 83.67) rotate(240)"><rect x="-1.1" y="10" width="2.2" height="7.5" fill="#7c2c3c"/></g>
<g transform="translate(542.38 76.48) rotate(240)"><rect x="-1.1" y="10" width="2.2" height="7.5" fill="#7c2c3c"/></g>
<g transform="translate(542.38 66.52) rotate(300)"><rect x="-1.1" y="10" width="2.2" height="7.5" fill="#9a7c8c"/></g>
<g transform="translate(546.52 59.33) rotate(300)"><rect x="-1.1" y="10" width="2.2" height="7.5" fill="#9a7c8c"/></g>
<g transform="translate(550.67 52.14) rotate(300)"><rect x="-1.1" y="10" width="2.2" height="7.5" fill="#9a7c8c"/></g>
<g transform="translate(554.83 44.96) rotate(300)"><rect x="-1.1" y="10" width="2.2" height="7.5" fill="#9a7c8c"/></g>
<g transform="translate(558.98 37.77) rotate(300)"><rect x="-1.1" y="10" width="2.2" height="7.5" fill="#9a7c8c"/></g>
<g transform="translate(563.12 30.58) rotate(300)"><rect x="-1.1" y="10" width="2.2" height="7.5" fill="#9a7c8c"/></g>
<polygon points="566,25.6 619,25.6 612.65,36.6 572.35,36.6" fill="#70889a" fill-opacity="0.62"/>
<polygon points="619,25.6 645.5,71.5 632.8,71.5 612.65,36.6" fill="#70889a" fill-opacity="0.62"/>
<polygon points="645.5,71.5 619,117.4 612.65,106.4 632.8,71.5" fill="#6e767e" fill-opacity="0.62"/>
<polygon points="619,117.4 566,117.4 572.35,106.4 612.65,106.4" fill="#6e767e" fill-opacity="0.62"/>
<polygon points="566,117.4 539.5,71.5 552.2,71.5 572.35,106.4" fill="#6e767e" fill-opacity="0.62"/>
<polygon points="539.5,71.5 566,25.6 572.35,36.6 552.2,71.5" fill="#70889a" fill-opacity="0.62"/>
<polygon points="575.75,42.49 609.25,42.49 626,71.5 609.25,100.51 575.75,100.51 559,71.5" fill="#b0d4e0" />
<polygon points="586.83,54.84 586.74,50.19 586.9,44.41 588.53,47.28 589.73,52.66 590.39,56.01 591.49,57.32 592.45,55.9 592.78,52.51 593.43,47.03 594.77,44.02 595.5,49.75 595.88,54.39 598.13,50.31 601.16,45.39 601.13,48.69 599.48,53.95 598.38,57.18 598.68,58.86 600.22,58.12 602.19,55.34 605.5,50.93 608.16,48.98 605.94,54.31 603.94,58.52 607.93,56.12 613.01,53.37 611.34,56.21 607.28,59.94 604.71,62.19 604.13,63.79 605.83,63.92 608.93,62.5 614.01,60.33 617.28,59.98 612.69,63.49 608.86,66.13 613.51,66.04 619.29,66.2 616.42,67.83 611.04,69.03 607.69,69.69 606.38,70.79 607.8,71.75 611.19,72.08 616.67,72.73 619.68,74.07 613.95,74.8 609.31,75.18 613.39,77.43 618.31,80.46 615.01,80.43 609.75,78.78 606.52,77.68 604.84,77.98 605.58,79.52 608.36,81.49 612.77,84.8 614.72,87.46 609.39,85.24 605.18,83.24 607.58,87.23 610.33,92.31 607.49,90.64 603.76,86.58 601.51,84.01 599.91,83.43 599.78,85.13 601.2,88.23 603.37,93.31 603.72,96.58 600.21,91.99 597.57,88.16 597.66,92.81 597.5,98.59 595.87,95.72 594.67,90.34 594.01,86.99 592.91,85.68 591.95,87.1 591.62,90.49 590.97,95.97 589.63,98.98 588.9,93.25 588.52,88.61 586.27,92.69 583.24,97.61 583.27,94.31 584.92,89.05 586.02,85.82 585.72,84.14 584.18,84.88 582.21,87.66 578.9,92.07 576.24,94.02 578.46,88.69 580.46,84.48 576.47,86.88 571.39,89.63 573.06,86.79 577.12,83.06 579.69,80.81 580.27,79.21 578.57,79.08 575.47,80.5 570.39,82.67 567.12,83.02 571.71,79.51 575.54,76.87 570.89,76.96 565.11,76.8 567.98,75.17 573.36,73.97 576.71,73.31 578.02,72.21 576.6,71.25 573.21,70.92 567.73,70.27 564.72,68.93 570.45,68.2 575.09,67.82 571.01,65.57 566.09,62.54 569.39,62.57 574.65,64.22 577.88,65.32 579.56,65.02 578.82,63.48 576.04,61.51 571.63,58.2 569.68,55.54 575.01,57.76 579.22,59.76 576.82,55.77 574.07,50.69 576.91,52.36 580.64,56.42 582.89,58.99 584.49,59.57 584.62,57.87 583.2,54.77 581.03,49.69 580.68,46.42 584.19,51.01" fill="#c4c680" />
<polyline points="588.4,48.31 589.43,52.7 590.17,56.03 591.47,56.92 592.67,55.91 593.08,52.52 593.67,48.05" stroke="#b05a84" stroke-width="1" fill="none" stroke-linejoin="round" stroke-linecap="round"/>
<polyline points="600.5,49.52 599.2,53.84 598.18,57.09 598.86,58.51 600.41,58.23 602.45,55.5 605.2,51.92" stroke="#b05a84" stroke-width="1" fill="none" stroke-linejoin="round" stroke-linecap="round"/>
<polyline points="610.38,56.61 607.09,59.7 604.58,62.01 604.46,63.58 605.94,64.11 609.08,62.77 613.24,61.04" stroke="#b05a84" stroke-width="1" fill="none" stroke-linejoin="round" stroke-linecap="round"/>
<polyline points="615.39,67.7 611,68.73 607.67,69.47 606.78,70.77 607.79,71.97 611.18,72.38 615.65,72.97" stroke="#b05a84" stroke-width="1" fill="none" stroke-linejoin="round" stroke-linecap="round"/>
<polyline points="614.18,79.8 609.86,78.5 606.61,77.48 605.19,78.16 605.47,79.71 608.2,81.75 611.78,84.5" stroke="#b05a84" stroke-width="1" fill="none" stroke-linejoin="round" stroke-linecap="round"/>
<polyline points="607.09,89.68 604,86.39 601.69,83.88 600.12,83.76 599.59,85.24 600.93,88.38 602.66,92.54" stroke="#b05a84" stroke-width="1" fill="none" stroke-linejoin="round" stroke-linecap="round"/>
<polyline points="596,94.69 594.97,90.3 594.23,86.97 592.93,86.08 591.73,87.09 591.32,90.48 590.73,94.95" stroke="#b05a84" stroke-width="1" fill="none" stroke-linejoin="round" stroke-linecap="round"/>
<polyline points="583.9,93.48 585.2,89.16 586.22,85.91 585.54,84.49 583.99,84.77 581.95,87.5 579.2,91.08" stroke="#b05a84" stroke-width="1" fill="none" stroke-linejoin="round" stroke-linecap="round"/>
<polyline points="574.02,86.39 577.31,83.3 579.82,80.99 579.94,79.42 578.46,78.89 575.32,80.23 571.16,81.96" stroke="#b05a84" stroke-width="1" fill="none" stroke-linejoin="round" stroke-linecap="round"/>
<polyline points="569.01,75.3 573.4,74.27 576.73,73.53 577.62,72.23 576.61,71.03 573.22,70.62 568.75,70.03" stroke="#b05a84" stroke-width="1" fill="none" stroke-linejoin="round" stroke-linecap="round"/>
<polyline points="570.22,63.2 574.54,64.5 577.79,65.52 579.21,64.84 578.93,63.29 576.2,61.25 572.62,58.5" stroke="#b05a84" stroke-width="1" fill="none" stroke-linejoin="round" stroke-linecap="round"/>
<polyline points="577.31,53.32 580.4,56.61 582.71,59.12 584.28,59.24 584.81,57.76 583.47,54.62 581.74,50.46" stroke="#b05a84" stroke-width="1" fill="none" stroke-linejoin="round" stroke-linecap="round"/>
<path d="M594.11 72.09 Q603.47 75.61 606.06 87.28" stroke="#8aa860" stroke-width="0.7" fill="none" opacity="0.6"/>
<path d="M592.23 73.5 Q591.77 83.49 581.48 89.56" stroke="#8aa860" stroke-width="0.7" fill="none" opacity="0.6"/>
<path d="M590.31 72.14 Q580.66 74.8 571.71 66.88" stroke="#8aa860" stroke-width="0.7" fill="none" opacity="0.6"/>
<path d="M591 69.9 Q585.5 61.55 590.26 50.59" stroke="#8aa860" stroke-width="0.7" fill="none" opacity="0.6"/>
<path d="M593.35 69.87 Q599.6 62.05 611.49 63.19" stroke="#8aa860" stroke-width="0.7" fill="none" opacity="0.6"/>
<polygon points="566,25.6 619,25.6 645.5,71.5 619,117.4 566,117.4 539.5,71.5" fill="none" stroke="#9ab8c8" stroke-width="0.8" stroke-opacity="0.7"/>
<circle cx="592.2" cy="71.2" r="28" fill="none" stroke="#2a84d0" stroke-width="2.1" stroke-dasharray="7.2 4.2"/>
<rect x="565.2" y="12.7" width="54.5" height="31.2" fill="none" stroke="#d63a64" stroke-width="2" stroke-dasharray="4.5 2.5"/>
<path d="M619.5 28 L636 37.8" stroke="#d63a64" stroke-width="2.4"/><path d="M641.5 41 L632.5 38.5 L636.8 33.5Z" fill="#d63a64" transform="translate(0 0)"/>
<path d="M617.5 79.5 L637.5 104.5" stroke="#2a84d0" stroke-width="2.2"/><path d="M641.5 109.5 L633 105.5 L638.2 100.4Z" fill="#2a84d0"/>
<text x="632" y="22.2" font-size="9.45" fill="#d63a64" text-anchor="start" style="font-family:'Liberation Sans',sans-serif;font-weight:bold" textLength="52.9" lengthAdjust="spacingAndGlyphs" >Transferrin:</text>
<text x="635.7" y="33.9" font-size="9.45" fill="#000" text-anchor="start" style="font-family:'Liberation Sans',sans-serif;font-weight:bold" textLength="44.5" lengthAdjust="spacingAndGlyphs" >recognize</text>
<text x="641.9" y="45.5" font-size="9.45" fill="#000" text-anchor="start" style="font-family:'Liberation Sans',sans-serif;font-weight:bold" textLength="32.5" lengthAdjust="spacingAndGlyphs" >Cancer</text>
<text x="648.6" y="56.8" font-size="9.45" fill="#000" text-anchor="start" style="font-family:'Liberation Sans',sans-serif;font-weight:bold" textLength="16.6" lengthAdjust="spacingAndGlyphs" >Cell</text>
<text x="648.2" y="99.2" font-size="9.45" fill="#2a84d0" text-anchor="start" style="font-family:'Liberation Sans',sans-serif;font-weight:bold" textLength="22.2" lengthAdjust="spacingAndGlyphs" >GOx:</text>
<text x="644.5" y="110.1" font-size="9.45" fill="#000" text-anchor="start" style="font-family:'Liberation Sans',sans-serif;font-weight:bold" textLength="28.3" lengthAdjust="spacingAndGlyphs" >Tumor</text>
<text x="635" y="122" font-size="9.45" fill="#000" text-anchor="start" style="font-family:'Liberation Sans',sans-serif;font-weight:bold" textLength="48.7" lengthAdjust="spacingAndGlyphs" >elimination</text>
<text x="541" y="141.6" font-size="15.2" fill="#000" text-anchor="start" style="font-family:'Liberation Sans',sans-serif;font-weight:bold" textLength="118.5" lengthAdjust="spacingAndGlyphs" >GOx@Tf<tspan font-weight="normal">⊂</tspan>ZPF-2</text>
<text x="-1" y="171.3" font-size="30" fill="#000" text-anchor="start" style="font-family:'Liberation Serif',serif;font-weight:bold" >b</text>
<polyline points="13,225.38 13.35,225.38 13.7,225.38 14.05,225.38 14.4,225.38 14.75,225.38 15.1,225.38 15.45,225.38 15.8,225.37 16.15,225.37 16.5,225.37 16.85,225.37 17.2,225.37 17.55,225.37 17.9,225.37 18.25,225.37 18.6,225.36 18.95,225.36 19.3,225.36 19.65,225.36 20,225.35 20.35,225.35 20.7,225.35 21.05,225.35 21.4,225.34 21.75,225.34 22.1,225.33 22.45,225.33 22.8,225.32 23.15,225.32 23.5,225.31 23.85,225.3 24.2,225.29 24.55,225.28 24.9,225.26 25.25,225.25 25.6,225.23 25.95,225.2 26.3,225.18 26.65,225.14 27,225.09 27.35,225.02 27.7,224.91 28.05,224.68 28.4,224.22 28.75,223.3 29.1,221.65 29.45,219.05 29.8,215.59 30.15,211.82 30.5,208.84 30.85,207.92 31.2,209.54 31.55,212.87 31.9,216.64 32.25,219.89 32.6,222.21 32.95,223.62 33.3,224.38 33.65,224.76 34,224.94 34.35,225.04 34.7,225.1 35.05,225.15 35.4,225.18 35.75,225.21 36.1,225.23 36.45,225.25 36.8,225.26 37.15,225.27 37.5,225.28 37.85,225.29 38.2,225.3 38.55,225.31 38.9,225.31 39.25,225.32 39.6,225.32 39.95,225.33 40.3,225.33 40.65,225.33 41,225.34 41.35,225.34 41.7,225.34 42.05,225.34 42.4,225.34 42.75,225.34 43.1,225.34 43.45,225.34 43.8,225.34 44.15,225.34 44.5,225.34 44.85,225.34 45.2,225.34 45.55,225.33 45.9,225.33 46.25,225.32 46.6,225.31 46.95,225.3 47.3,225.27 47.65,225.22 48,225.12 48.35,224.96 48.7,224.72 49.05,224.39 49.4,223.98 49.75,223.56 50.1,223.23 50.45,223.07 50.8,223.16 51.15,223.45 51.5,223.86 51.85,224.27 52.2,224.63 52.55,224.9 52.9,225.08 53.25,225.19 53.6,225.25 53.95,225.29 54.3,225.3 54.65,225.31 55,225.32 55.35,225.32 55.7,225.33 56.05,225.33 56.4,225.33 56.75,225.33 57.1,225.33 57.45,225.33 57.8,225.32 58.15,225.32 58.5,225.32 58.85,225.31 59.2,225.31 59.55,225.3 59.9,225.29 60.25,225.28 60.6,225.27 60.95,225.25 61.3,225.22 61.65,225.17 62,225.08 62.35,224.91 62.7,224.58 63.05,224.03 63.4,223.19 63.75,222.09 64.1,220.87 64.45,219.78 64.8,219.19 65.15,219.36 65.5,220.2 65.85,221.39 66.2,222.59 66.55,223.58 66.9,224.29 67.25,224.73 67.6,224.98 67.95,225.11 68.3,225.18 68.65,225.21 69,225.23 69.35,225.25 69.7,225.26 70.05,225.26 70.4,225.27 70.75,225.27 71.1,225.27 71.45,225.26 71.8,225.26 72.15,225.26 72.5,225.25 72.85,225.24 73.2,225.22 73.55,225.2 73.9,225.16 74.25,225.1 74.6,224.98 74.95,224.75 75.3,224.32 75.65,223.62 76,222.6 76.35,221.31 76.7,219.95 77.05,218.86 77.4,218.43 77.75,218.85 78.1,219.94 78.45,221.29 78.8,222.57 79.15,223.59 79.5,224.27 79.85,224.67 80.2,224.84 80.55,224.83 80.9,224.7 81.25,224.46 81.6,224.22 81.95,224.1 82.3,224.18 82.65,224.42 83,224.69 83.35,224.9 83.7,225.04 84.05,225.1 84.4,225.12 84.75,225.11 85.1,225.08 85.45,225.02 85.8,224.91 86.15,224.68 86.5,224.26 86.85,223.52 87.2,222.36 87.55,220.76 87.9,218.88 88.25,217.08 88.6,215.89 88.95,215.8 89.3,216.85 89.65,218.59 90,220.48 90.35,222.12 90.7,223.34 91.05,224.13 91.4,224.58 91.75,224.82 92.1,224.93 92.45,224.98 92.8,225.01 93.15,225.01 93.5,225.01 93.85,224.99 94.2,224.97 94.55,224.93 94.9,224.88 95.25,224.82 95.6,224.73 95.95,224.6 96.3,224.38 96.65,223.94 97,222.87 97.35,220.38 97.7,215.36 98.05,207.2 98.4,197.01 98.75,188.51 99.1,186.67 99.45,192.86 99.8,202.91 100.15,212.23 100.5,218.58 100.85,222.02 101.2,223.57 101.55,224.21 101.9,224.49 102.25,224.64 102.6,224.73 102.95,224.8 103.3,224.84 103.65,224.87 104,224.88 104.35,224.87 104.7,224.83 105.05,224.73 105.4,224.51 105.75,224.08 106.1,223.27 106.45,221.94 106.8,219.98 107.15,217.51 107.5,214.9 107.85,212.81 108.2,211.99 108.55,212.82 108.9,214.92 109.25,217.54 109.6,220.03 109.95,222 110.3,223.35 110.65,224.17 111,224.63 111.35,224.86 111.7,224.99 112.05,225.06 112.4,225.1 112.75,225.14 113.1,225.16 113.45,225.18 113.8,225.2 114.15,225.21 114.5,225.22 114.85,225.23 115.2,225.24 115.55,225.25 115.9,225.25 116.25,225.26 116.6,225.26 116.95,225.26 117.3,225.26 117.65,225.26 118,225.26 118.35,225.25 118.7,225.25 119.05,225.24 119.4,225.23 119.75,225.22 120.1,225.21 120.45,225.19 120.8,225.17 121.15,225.14 121.5,225.11 121.85,225.05 122.2,224.96 122.55,224.78 122.9,224.4 123.25,223.66 123.6,222.32 123.95,220.21 124.3,217.4 124.65,214.35 125,211.93 125.35,211.18 125.7,212.5 126.05,215.21 126.4,218.26 126.75,220.9 127.1,222.78 127.45,223.93 127.8,224.55 128.15,224.86 128.5,225 128.85,225.08 129.2,225.13 129.55,225.17 129.9,225.2 130.25,225.22 130.6,225.24 130.95,225.25 131.3,225.26 131.65,225.27 132,225.28 132.35,225.29 132.7,225.3 133.05,225.3 133.4,225.31 133.75,225.31 134.1,225.31 134.45,225.31 134.8,225.32 135.15,225.32 135.5,225.32 135.85,225.32 136.2,225.32 136.55,225.31 136.9,225.31 137.25,225.3 137.6,225.29 137.95,225.28 138.3,225.24 138.65,225.14 139,224.95 139.35,224.59 139.7,224.06 140.05,223.47 140.4,223.03 140.75,222.99 141.1,223.39 141.45,223.98 141.8,224.52 142.15,224.9 142.5,225.12 142.85,225.22 143.2,225.27 143.55,225.29 143.9,225.29 144.25,225.3 144.6,225.3 144.95,225.3 145.3,225.3 145.65,225.3 146,225.3 146.35,225.29 146.7,225.29 147.05,225.28 147.4,225.27 147.75,225.26 148.1,225.25 148.45,225.23 148.8,225.21 149.15,225.19 149.5,225.16 149.85,225.12 150.2,225.06 150.55,224.98 150.9,224.82 151.25,224.47 151.6,223.63 151.95,221.8 152.3,218.53 152.65,213.92 153,209.2 153.35,206.7 153.7,208.14 154.05,212.48 154.4,217.3 154.75,221.01 155.1,223.2 155.45,224.26 155.8,224.7 156.15,224.88 156.5,224.96 156.85,224.99 157.2,224.95 157.55,224.82 157.9,224.48 158.25,223.85 158.6,222.9 158.95,221.82 159.3,221.02 159.65,220.97 160,221.7 160.35,222.79 160.7,223.79 161.05,224.5 161.4,224.9 161.75,225.09 162.1,225.17 162.45,225.21 162.8,225.23 163.15,225.24 163.5,225.24 163.85,225.24 164.2,225.24 164.55,225.22 164.9,225.18 165.25,225.08 165.6,224.85 165.95,224.42 166.3,223.74 166.65,222.9 167,222.17 167.35,221.93 167.7,222.34 168.05,223.14 168.4,223.95 168.75,224.56 169.1,224.92 169.45,225.1 169.8,225.17 170.15,225.2 170.5,225.2 170.85,225.17 171.2,225.11 171.55,224.94 171.9,224.58 172.25,223.93 172.6,222.96 172.95,221.87 173.3,221.06 173.65,221 174,221.72 174.35,222.8 174.7,223.79 175.05,224.49 175.4,224.88 175.75,225.05 176.1,225.12 176.45,225.14 176.8,225.12 177.15,225.07 177.5,224.94 177.85,224.62 178.2,223.95 178.55,222.81 178.9,221.25 179.25,219.63 179.6,218.66 179.95,218.94 180.3,220.27 180.65,221.93 181,223.33 181.35,224.24 181.7,224.72 182.05,224.93 182.4,224.99 182.75,224.95 183.1,224.79 183.45,224.38 183.8,223.52 184.15,222.03 184.5,219.98 184.85,217.86 185.2,216.59 185.55,216.97 185.9,218.73 186.25,220.92 186.6,222.77 186.95,223.99 187.3,224.64 187.65,224.94 188,225.06 188.35,225.09 188.7,225.07 189.05,224.95 189.4,224.68 189.75,224.21 190.1,223.54 190.45,222.85 190.8,222.44 191.15,222.57 191.5,223.15 191.85,223.88 192.2,224.5 192.55,224.9 192.9,225.12 193.25,225.22 193.6,225.27 193.95,225.29 194.3,225.3 194.65,225.31 195,225.32 195.35,225.32 195.7,225.33 196.05,225.33 196.4,225.33 196.75,225.33 197.1,225.33 197.45,225.33 197.8,225.32 198.15,225.32 198.5,225.31 198.85,225.3 199.2,225.29 199.55,225.25 199.9,225.16 200.25,224.98 200.6,224.61 200.95,224.02 201.3,223.26 201.65,222.56 202,222.26 202.35,222.55 202.7,223.25 203.05,224.01 203.4,224.59 203.75,224.95 204.1,225.13 204.45,225.21 204.8,225.23 205.15,225.21 205.5,225.14 205.85,224.96 206.2,224.6 206.55,224.01 206.9,223.25 207.25,222.56 207.6,222.26 207.95,222.56 208.3,223.26 208.65,224.02 209,224.61 209.35,224.98 209.7,225.17 210.05,225.25 210.4,225.29 210.75,225.31 211.1,225.32 211.45,225.33 211.8,225.33 212.15,225.33 212.5,225.33 212.85,225.33 213.2,225.33 213.55,225.33 213.9,225.33 214.25,225.32 214.6,225.31 214.95,225.3 215.3,225.28 215.65,225.24 216,225.15 216.35,224.93 216.7,224.5 217.05,223.75 217.4,222.72 217.75,221.66 218.1,221.02 218.45,221.21 218.8,222.09 219.15,223.19 219.5,224.11 219.85,224.72 220.2,225.05 220.55,225.2 220.9,225.27 221.25,225.3 221.6,225.32 221.95,225.33" fill="none" stroke="#ff3c3c" stroke-width="1.2" stroke-linejoin="round"/>
<polyline points="13,254.87 13.35,254.86 13.7,254.86 14.05,254.86 14.4,254.86 14.75,254.86 15.1,254.86 15.45,254.85 15.8,254.85 16.15,254.85 16.5,254.85 16.85,254.84 17.2,254.84 17.55,254.84 17.9,254.83 18.25,254.83 18.6,254.82 18.95,254.82 19.3,254.81 19.65,254.81 20,254.8 20.35,254.79 20.7,254.78 21.05,254.77 21.4,254.76 21.75,254.75 22.1,254.73 22.45,254.71 22.8,254.69 23.15,254.67 23.5,254.63 23.85,254.6 24.2,254.55 24.55,254.48 24.9,254.39 25.25,254.26 25.6,254 25.95,253.39 26.3,251.97 26.65,249.05 27,244.13 27.35,237.74 27.7,231.98 28.05,230.03 28.4,233.3 28.75,239.47 29.1,245.49 29.45,249.68 29.8,251.82 30.15,252.29 30.5,251.27 30.85,248.58 31.2,244.14 31.55,238.78 31.9,234.67 32.25,234.39 32.6,238.17 32.95,243.61 33.3,248.39 33.65,251.54 34,253.2 34.35,253.94 34.7,254.25 35.05,254.4 35.4,254.49 35.75,254.55 36.1,254.6 36.45,254.64 36.8,254.67 37.15,254.69 37.5,254.71 37.85,254.73 38.2,254.74 38.55,254.76 38.9,254.77 39.25,254.77 39.6,254.78 39.95,254.79 40.3,254.79 40.65,254.8 41,254.8 41.35,254.81 41.7,254.81 42.05,254.81 42.4,254.81 42.75,254.81 43.1,254.81 43.45,254.81 43.8,254.81 44.15,254.81 44.5,254.81 44.85,254.8 45.2,254.8 45.55,254.79 45.9,254.78 46.25,254.77 46.6,254.74 46.95,254.69 47.3,254.56 47.65,254.28 48,253.74 48.35,252.86 48.7,251.74 49.05,250.7 49.4,250.26 49.75,250.7 50.1,251.74 50.45,252.86 50.8,253.74 51.15,254.28 51.5,254.56 51.85,254.69 52.2,254.74 52.55,254.77 52.9,254.78 53.25,254.79 53.6,254.8 53.95,254.81 54.3,254.81 54.65,254.81 55,254.81 55.35,254.82 55.7,254.81 56.05,254.81 56.4,254.81 56.75,254.81 57.1,254.81 57.45,254.8 57.8,254.8 58.15,254.79 58.5,254.78 58.85,254.77 59.2,254.76 59.55,254.74 59.9,254.72 60.25,254.69 60.6,254.64 60.95,254.55 61.3,254.35 61.65,253.91 62,252.99 62.35,251.42 62.7,249.27 63.05,247.04 63.4,245.71 63.75,246.1 64.1,247.94 64.45,250.22 64.8,252.15 65.15,253.42 65.5,254.1 65.85,254.41 66.2,254.53 66.55,254.59 66.9,254.61 67.25,254.61 67.6,254.61 67.95,254.58 68.3,254.5 68.65,254.32 69,253.92 69.35,253.16 69.7,251.96 70.05,250.49 70.4,249.2 70.75,248.75 71.1,249.39 71.45,250.61 71.8,251.63 72.15,251.9 72.5,251.12 72.85,249.41 73.2,247.37 73.55,245.96 73.9,246.11 74.25,247.77 74.6,249.99 74.95,251.95 75.3,253.28 75.65,254.02 76,254.36 76.35,254.51 76.7,254.57 77.05,254.61 77.4,254.62 77.75,254.63 78.1,254.62 78.45,254.61 78.8,254.57 79.15,254.49 79.5,254.29 79.85,253.83 80.2,252.94 80.55,251.49 80.9,249.63 81.25,247.92 81.6,247.18 81.95,247.91 82.3,249.62 82.65,251.47 83,252.91 83.35,253.79 83.7,254.21 84.05,254.32 84.4,254.22 84.75,253.92 85.1,253.44 85.45,252.88 85.8,252.46 86.15,252.43 86.5,252.81 86.85,253.37 87.2,253.89 87.55,254.24 87.9,254.43 88.25,254.5 88.6,254.5 88.95,254.44 89.3,254.28 89.65,253.91 90,253.14 90.35,251.84 90.7,250.04 91.05,248.18 91.4,247.06 91.75,247.34 92.1,248.81 92.45,250.64 92.8,252.15 93.15,253.08 93.5,253.48 93.85,253.44 94.2,252.84 94.55,250.71 94.9,244.73 95.25,232.52 95.6,216.23 95.95,206.06 96.3,212.11 96.65,228.02 97,241.98 97.35,249.61 97.7,252.59 98.05,253.57 98.4,253.93 98.75,254.13 99.1,254.26 99.45,254.35 99.8,254.41 100.15,254.45 100.5,254.47 100.85,254.48 101.2,254.45 101.55,254.35 101.9,254.09 102.25,253.53 102.6,252.52 102.95,251.07 103.3,249.5 103.65,248.45 104,248.54 104.35,249.72 104.7,251.31 105.05,252.71 105.4,253.65 105.75,254.17 106.1,254.4 106.45,254.48 106.8,254.49 107.15,254.45 107.5,254.31 107.85,253.96 108.2,253.2 108.55,251.81 108.9,249.76 109.25,247.43 109.6,245.71 109.95,245.58 110.3,247.13 110.65,249.45 111,251.58 111.35,253.08 111.7,253.93 112.05,254.34 112.4,254.52 112.75,254.59 113.1,254.63 113.45,254.65 113.8,254.66 114.15,254.66 114.5,254.65 114.85,254.61 115.2,254.51 115.55,254.27 115.9,253.76 116.25,252.88 116.6,251.66 116.95,250.41 117.3,249.66 117.65,249.89 118,250.93 118.35,252.22 118.7,253.32 119.05,254.04 119.4,254.43 119.75,254.6 120.1,254.68 120.45,254.71 120.8,254.73 121.15,254.74 121.5,254.75 121.85,254.74 122.2,254.74 122.55,254.72 122.9,254.69 123.25,254.6 123.6,254.39 123.95,253.97 124.3,253.26 124.65,252.33 125,251.41 125.35,250.94 125.7,251.21 126.05,252.05 126.4,253.01 126.75,253.79 127.1,254.29 127.45,254.55 127.8,254.66 128.15,254.71 128.5,254.73 128.85,254.73 129.2,254.72 129.55,254.71 129.9,254.67 130.25,254.56 130.6,254.32 130.95,253.83 131.3,253.02 131.65,251.94 132,250.89 132.35,250.34 132.7,250.66 133.05,251.62 133.4,252.73 133.75,253.63 134.1,254.21 134.45,254.51 134.8,254.64 135.15,254.69 135.5,254.71 135.85,254.72 136.2,254.72 136.55,254.71 136.9,254.68 137.25,254.63 137.6,254.5 137.95,254.21 138.3,253.61 138.65,252.57 139,251.14 139.35,249.67 139.7,248.79 140.05,249.05 140.4,250.27 140.75,251.79 141.1,253.07 141.45,253.91 141.8,254.36 142.15,254.57 142.5,254.65 142.85,254.69 143.2,254.71 143.55,254.71 143.9,254.71 144.25,254.7 144.6,254.69 144.95,254.65 145.3,254.56 145.65,254.35 146,253.89 146.35,253.01 146.7,251.63 147.05,249.92 147.4,248.44 147.75,247.96 148.1,248.8 148.45,250.42 148.8,252.08 149.15,253.32 149.5,254.07 149.85,254.45 150.2,254.61 150.55,254.69 150.9,254.72 151.25,254.74 151.6,254.76 151.95,254.77 152.3,254.78 152.65,254.78 153,254.78 153.35,254.78 153.7,254.78 154.05,254.78 154.4,254.77 154.75,254.76 155.1,254.74 155.45,254.71 155.8,254.65 156.15,254.5 156.5,254.17 156.85,253.54 157.2,252.56 157.55,251.34 157.9,250.29 158.25,249.95 158.6,250.54 158.95,251.69 159.3,252.86 159.65,253.74 160,254.27 160.35,254.53 160.7,254.65 161.05,254.69 161.4,254.71 161.75,254.72 162.1,254.72 162.45,254.71 162.8,254.7 163.15,254.68 163.5,254.64 163.85,254.56 164.2,254.38 164.55,253.98 164.9,253.14 165.25,251.71 165.6,249.75 165.95,247.72 166.3,246.51 166.65,246.86 167,248.54 167.35,250.63 167.7,252.4 168.05,253.56 168.4,254.18 168.75,254.47 169.1,254.59 169.45,254.64 169.8,254.67 170.15,254.68 170.5,254.69 170.85,254.7 171.2,254.69 171.55,254.69 171.9,254.68 172.25,254.66 172.6,254.63 172.95,254.6 173.3,254.54 173.65,254.43 174,254.2 174.35,253.68 174.7,252.62 175.05,250.81 175.4,248.32 175.75,245.73 176.1,244.11 176.45,244.32 176.8,245.88 177.15,247.42 177.5,247.84 177.85,246.92 178.2,245.38 178.55,244.54 178.9,245.39 179.25,247.58 179.6,250.07 179.95,252.09 180.3,253.38 180.65,254.06 181,254.37 181.35,254.51 181.7,254.58 182.05,254.62 182.4,254.64 182.75,254.66 183.1,254.66 183.45,254.65 183.8,254.62 184.15,254.51 184.5,254.25 184.85,253.76 185.2,252.98 185.55,252.02 185.9,251.19 186.25,250.92 186.6,251.4 186.95,252.32 187.3,253.25 187.65,253.96 188,254.38 188.35,254.59 188.7,254.69 189.05,254.72 189.4,254.74 189.75,254.75 190.1,254.75 190.45,254.75 190.8,254.74 191.15,254.73 191.5,254.71 191.85,254.65 192.2,254.53 192.55,254.25 192.9,253.66 193.25,252.66 193.6,251.28 193.95,249.86 194.3,249.01 194.65,249.26 195,250.44 195.35,251.91 195.7,253.15 196.05,253.97 196.4,254.41 196.75,254.62 197.1,254.7 197.45,254.75 197.8,254.77 198.15,254.79 198.5,254.8 198.85,254.81 199.2,254.81 199.55,254.82 199.9,254.82 200.25,254.83 200.6,254.83 200.95,254.83 201.3,254.83 201.65,254.83 202,254.83 202.35,254.83 202.7,254.82 203.05,254.82 203.4,254.81 203.75,254.81 204.1,254.8 204.45,254.79 204.8,254.77 205.15,254.74 205.5,254.68 205.85,254.55 206.2,254.26 206.55,253.67 206.9,252.69 207.25,251.4 207.6,250.13 207.95,249.47 208.3,249.85 208.65,251 209,252.34 209.35,253.42 209.7,254.11 210.05,254.47 210.4,254.63 210.75,254.69 211.1,254.72 211.45,254.72 211.8,254.72 212.15,254.71 212.5,254.66 212.85,254.55 213.2,254.29 213.55,253.76 213.9,252.88 214.25,251.7 214.6,250.56 214.95,249.96 215.3,250.31 215.65,251.36 216,252.57 216.35,253.55 216.7,254.18 217.05,254.51 217.4,254.65 217.75,254.71 218.1,254.74 218.45,254.75 218.8,254.75 219.15,254.74 219.5,254.7 219.85,254.62 220.2,254.41 220.55,253.99 220.9,253.29 221.25,252.36 221.6,251.45 221.95,250.98" fill="none" stroke="#ff8c8c" stroke-width="1.2" stroke-linejoin="round"/>
<polyline points="13,202.15 13.35,202.15 13.7,202.15 14.05,202.14 14.4,202.14 14.75,202.14 15.1,202.14 15.45,202.13 15.8,202.13 16.15,202.13 16.5,202.12 16.85,202.12 17.2,202.11 17.55,202.11 17.9,202.1 18.25,202.1 18.6,202.09 18.95,202.08 19.3,202.08 19.65,202.07 20,202.06 20.35,202.05 20.7,202.04 21.05,202.03 21.4,202.01 21.75,201.99 22.1,201.98 22.45,201.96 22.8,201.93 23.15,201.9 23.5,201.87 23.85,201.83 24.2,201.78 24.55,201.72 24.9,201.64 25.25,201.54 25.6,201.4 25.95,201.17 26.3,200.7 26.65,199.64 27,197.34 27.35,192.96 27.7,186.09 28.05,177.65 28.4,170.32 28.75,167.89 29.1,171.94 29.45,179.83 29.8,187.85 30.15,193.71 30.5,196.78 30.85,197.22 31.2,195.17 31.55,190.62 31.9,184.03 32.25,177.17 32.6,173.08 32.95,174.37 33.3,180.21 33.65,187.44 34,193.55 34.35,197.58 34.7,199.76 35.05,200.77 35.4,201.22 35.75,201.44 36.1,201.56 36.45,201.65 36.8,201.72 37.15,201.78 37.5,201.82 37.85,201.85 38.2,201.88 38.55,201.91 38.9,201.93 39.25,201.95 39.6,201.96 39.95,201.97 40.3,201.99 40.65,202 41,202 41.35,202.01 41.7,202.02 42.05,202.02 42.4,202.02 42.75,202.03 43.1,202.03 43.45,202.03 43.8,202.03 44.15,202.03 44.5,202.03 44.85,202.03 45.2,202.02 45.55,202.02 45.9,202.01 46.25,202 46.6,201.98 46.95,201.96 47.3,201.93 47.65,201.87 48,201.73 48.35,201.4 48.7,200.73 49.05,199.59 49.4,198.03 49.75,196.41 50.1,195.44 50.45,195.72 50.8,197.07 51.15,198.73 51.5,200.14 51.85,201.07 52.2,201.57 52.55,201.8 52.9,201.9 53.25,201.94 53.6,201.97 53.95,201.98 54.3,202 54.65,202 55,202.01 55.35,202.02 55.7,202.02 56.05,202.02 56.4,202.02 56.75,202.02 57.1,202.01 57.45,202.01 57.8,202.01 58.15,202 58.5,201.99 58.85,201.98 59.2,201.97 59.55,201.95 59.9,201.93 60.25,201.91 60.6,201.87 60.95,201.82 61.3,201.73 61.65,201.55 62,201.12 62.35,200.21 62.7,198.52 63.05,195.95 63.4,192.91 63.75,190.46 64.1,189.94 64.45,191.7 64.8,194.64 65.15,197.49 65.5,199.56 65.85,200.76 66.2,201.34 66.55,201.59 66.9,201.69 67.25,201.73 67.6,201.75 67.95,201.74 68.3,201.71 68.65,201.62 69,201.39 69.35,200.89 69.7,199.95 70.05,198.53 70.4,196.84 70.75,195.47 71.1,195.13 71.45,195.97 71.8,197.32 72.15,198.27 72.5,198.2 72.85,196.92 73.2,194.75 73.55,192.59 73.9,191.67 74.25,192.69 74.6,195.01 74.95,197.52 75.3,199.47 75.65,200.68 76,201.3 76.35,201.58 76.7,201.7 77.05,201.76 77.4,201.79 77.75,201.8 78.1,201.81 78.45,201.81 78.8,201.8 79.15,201.78 79.5,201.75 79.85,201.66 80.2,201.48 80.55,201.04 80.9,200.15 81.25,198.61 81.6,196.5 81.95,194.33 82.3,193.02 82.65,193.39 83,195.19 83.35,197.41 83.7,199.27 84.05,200.46 84.4,201 84.75,201.03 85.1,200.65 85.45,199.93 85.8,199.04 86.15,198.31 86.5,198.16 86.85,198.7 87.2,199.59 87.55,200.45 87.9,201.07 88.25,201.42 88.6,201.58 88.95,201.63 89.3,201.62 89.65,201.55 90,201.38 90.35,201 90.7,200.21 91.05,198.88 91.4,197.05 91.75,195.15 92.1,193.99 92.45,194.25 92.8,195.7 93.15,197.5 93.5,198.95 93.85,199.74 94.2,199.72 94.55,198.41 94.9,194.52 95.25,186.21 95.6,173.12 95.95,159.12 96.3,152.61 96.65,159.14 97,173.16 97.35,186.29 97.7,194.66 98.05,198.66 98.4,200.23 98.75,200.82 99.1,201.08 99.45,201.24 99.8,201.34 100.15,201.41 100.5,201.45 100.85,201.46 101.2,201.42 101.55,201.27 101.9,200.88 102.25,200.03 102.6,198.52 102.95,196.35 103.3,194 103.65,192.42 104,192.56 104.35,194.32 104.7,196.7 105.05,198.8 105.4,200.22 105.75,200.99 106.1,201.34 106.45,201.47 106.8,201.49 107.15,201.42 107.5,201.23 107.85,200.72 108.2,199.62 108.55,197.61 108.9,194.64 109.25,191.27 109.6,188.78 109.95,188.59 110.3,190.84 110.65,194.19 111,197.28 111.35,199.45 111.7,200.69 112.05,201.28 112.4,201.54 112.75,201.65 113.1,201.71 113.45,201.75 113.8,201.77 114.15,201.78 114.5,201.78 114.85,201.77 115.2,201.73 115.55,201.62 115.9,201.35 116.25,200.8 116.6,199.89 116.95,198.67 117.3,197.48 117.65,196.86 118,197.22 118.35,198.32 118.7,199.58 119.05,200.61 119.4,201.26 119.75,201.61 120.1,201.76 120.45,201.83 120.8,201.86 121.15,201.88 121.5,201.88 121.85,201.89 122.2,201.89 122.55,201.89 122.9,201.88 123.25,201.85 123.6,201.8 123.95,201.67 124.3,201.38 124.65,200.86 125,200.09 125.35,199.22 125.7,198.58 126.05,198.53 126.4,199.11 126.75,199.97 127.1,200.76 127.45,201.32 127.8,201.63 128.15,201.78 128.5,201.84 128.85,201.86 129.2,201.86 129.55,201.86 129.9,201.84 130.25,201.8 130.6,201.69 130.95,201.43 131.3,200.94 131.65,200.14 132,199.11 132.35,198.17 132.7,197.76 133.05,198.16 133.4,199.11 133.75,200.14 134.1,200.94 134.45,201.43 134.8,201.68 135.15,201.79 135.5,201.83 135.85,201.85 136.2,201.85 136.55,201.85 136.9,201.83 137.25,201.81 137.6,201.74 137.95,201.58 138.3,201.22 138.65,200.53 139,199.44 139.35,198.11 139.7,196.95 140.05,196.57 140.4,197.23 140.75,198.49 141.1,199.79 141.45,200.76 141.8,201.35 142.15,201.64 142.5,201.77 142.85,201.82 143.2,201.85 143.55,201.86 143.9,201.87 144.25,201.87 144.6,201.87 144.95,201.86 145.3,201.85 145.65,201.83 146,201.8 146.35,201.72 146.7,201.54 147.05,201.14 147.4,200.39 147.75,199.25 148.1,197.91 148.45,196.83 148.8,196.6 149.15,197.38 149.5,198.68 149.85,199.94 150.2,200.86 150.55,201.4 150.9,201.66 151.25,201.77 151.6,201.82 151.95,201.85 152.3,201.86 152.65,201.87 153,201.88 153.35,201.88 153.7,201.88 154.05,201.88 154.4,201.88 154.75,201.87 155.1,201.86 155.45,201.85 155.8,201.84 156.15,201.81 156.5,201.78 156.85,201.69 157.2,201.5 157.55,201.1 157.9,200.34 158.25,199.2 158.6,197.85 158.95,196.76 159.3,196.52 159.65,197.27 160,198.53 160.35,199.68 160.7,200.37 161.05,200.5 161.4,200.17 161.75,199.6 162.1,199.15 162.45,199.13 162.8,199.57 163.15,200.23 163.5,200.83 163.85,201.23 164.2,201.4 164.55,201.36 164.9,201.04 165.25,200.34 165.6,199.13 165.95,197.52 166.3,195.94 166.65,195.1 167,195.51 167.35,196.79 167.7,198.13 168.05,198.93 168.4,199.04 168.75,198.72 169.1,198.46 169.45,198.68 169.8,199.36 170.15,200.18 170.5,200.87 170.85,201.32 171.2,201.56 171.55,201.67 171.9,201.71 172.25,201.73 172.6,201.73 172.95,201.72 173.3,201.71 173.65,201.67 174,201.61 174.35,201.46 174.7,201.13 175.05,200.44 175.4,199.23 175.75,197.51 176.1,195.64 176.45,194.35 176.8,194.34 177.15,195.46 177.5,196.77 177.85,197.42 178.2,197.06 178.55,196.01 178.9,195.06 179.25,195.09 179.6,196.25 179.95,197.92 180.3,199.44 180.65,200.5 181,201.07 181.35,201.26 181.7,201.14 182.05,200.73 182.4,200.02 182.75,199.13 183.1,198.35 183.45,198.1 183.8,198.55 184.15,199.42 184.5,200.31 184.85,200.96 185.2,201.34 185.55,201.47 185.9,201.4 186.25,201.11 186.6,200.54 186.95,199.72 187.3,198.81 187.65,198.21 188,198.27 188.35,198.95 188.7,199.87 189.05,200.68 189.4,201.23 189.75,201.54 190.1,201.67 190.45,201.73 190.8,201.75 191.15,201.75 191.5,201.75 191.85,201.72 192.2,201.67 192.55,201.52 192.9,201.2 193.25,200.59 193.6,199.62 193.95,198.44 194.3,197.4 194.65,197.06 195,197.64 195.35,198.75 195.7,199.88 196.05,200.7 196.4,201.1 196.75,201.12 197.1,200.81 197.45,200.24 197.8,199.61 198.15,199.18 198.5,199.23 198.85,199.73 199.2,200.41 199.55,201 199.9,201.41 200.25,201.63 200.6,201.74 200.95,201.79 201.3,201.81 201.65,201.82 202,201.82 202.35,201.83 202.7,201.83 203.05,201.83 203.4,201.82 203.75,201.82 204.1,201.81 204.45,201.79 204.8,201.77 205.15,201.72 205.5,201.6 205.85,201.33 206.2,200.81 206.55,199.97 206.9,198.9 207.25,197.9 207.6,197.48 207.95,197.9 208.3,198.89 208.65,199.96 209,200.8 209.35,201.31 209.7,201.58 210.05,201.69 210.4,201.73 210.75,201.75 211.1,201.75 211.45,201.74 211.8,201.71 212.15,201.63 212.5,201.45 212.85,201.05 213.2,200.35 213.55,199.36 213.9,198.28 214.25,197.55 214.6,197.61 214.95,198.42 215.3,199.51 215.65,200.48 216,201.13 216.35,201.49 216.7,201.66 217.05,201.73 217.4,201.75 217.75,201.77 218.1,201.77 218.45,201.75 218.8,201.72 219.15,201.63 219.5,201.42 219.85,201.01 220.2,200.37 220.55,199.58 220.9,198.9 221.25,198.68 221.6,199.07 221.95,199.82" fill="none" stroke="#8c1f3e" stroke-width="1.2" stroke-linejoin="round"/>
<polyline points="13,278.89 13.35,278.89 13.7,278.89 14.05,278.89 14.4,278.89 14.75,278.89 15.1,278.89 15.45,278.88 15.8,278.88 16.15,278.88 16.5,278.88 16.85,278.88 17.2,278.88 17.55,278.88 17.9,278.88 18.25,278.88 18.6,278.87 18.95,278.87 19.3,278.87 19.65,278.87 20,278.87 20.35,278.86 20.7,278.86 21.05,278.86 21.4,278.85 21.75,278.85 22.1,278.85 22.45,278.84 22.8,278.83 23.15,278.83 23.5,278.82 23.85,278.8 24.2,278.79 24.55,278.77 24.9,278.75 25.25,278.72 25.6,278.68 25.95,278.62 26.3,278.54 26.65,278.4 27,278 27.35,276.58 27.7,272.43 28.05,264.85 28.4,258.35 28.75,260.43 29.1,268.33 29.45,274.57 29.8,277.28 30.15,278.04 30.5,278.18 30.85,278.09 31.2,277.46 31.55,275.19 31.9,269.91 32.25,263.22 32.6,261.47 32.95,266.97 33.3,273.4 33.65,276.92 34,278.12 34.35,278.46 34.7,278.58 35.05,278.65 35.4,278.7 35.75,278.74 36.1,278.76 36.45,278.78 36.8,278.8 37.15,278.81 37.5,278.82 37.85,278.83 38.2,278.84 38.55,278.84 38.9,278.85 39.25,278.85 39.6,278.85 39.95,278.86 40.3,278.86 40.65,278.86 41,278.86 41.35,278.87 41.7,278.87 42.05,278.87 42.4,278.87 42.75,278.87 43.1,278.87 43.45,278.87 43.8,278.87 44.15,278.87 44.5,278.87 44.85,278.87 45.2,278.87 45.55,278.87 45.9,278.87 46.25,278.86 46.6,278.86 46.95,278.85 47.3,278.85 47.65,278.84 48,278.82 48.35,278.79 48.7,278.68 49.05,278.3 49.4,277.3 49.75,275.77 50.1,274.89 50.45,275.77 50.8,277.3 51.15,278.3 51.5,278.68 51.85,278.79 52.2,278.82 52.55,278.84 52.9,278.85 53.25,278.86 53.6,278.86 53.95,278.87 54.3,278.87 54.65,278.87 55,278.87 55.35,278.88 55.7,278.88 56.05,278.88 56.4,278.88 56.75,278.88 57.1,278.88 57.45,278.88 57.8,278.88 58.15,278.88 58.5,278.88 58.85,278.88 59.2,278.87 59.55,278.87 59.9,278.87 60.25,278.86 60.6,278.86 60.95,278.85 61.3,278.84 61.65,278.83 62,278.81 62.35,278.77 62.7,278.64 63.05,278.18 63.4,276.98 63.75,275.14 64.1,274.09 64.45,275.14 64.8,276.98 65.15,278.18 65.5,278.64 65.85,278.76 66.2,278.8 66.55,278.82 66.9,278.84 67.25,278.84 67.6,278.85 67.95,278.85 68.3,278.85 68.65,278.85 69,278.84 69.35,278.82 69.7,278.78 70.05,278.6 70.4,277.96 70.75,276.87 71.1,276.53 71.45,277.49 71.8,278.37 72.15,278.69 72.5,278.72 72.85,278.55 73.2,277.79 73.55,276.13 73.9,274.97 74.25,276.13 74.6,277.81 74.95,278.58 75.3,278.77 75.65,278.82 76,278.84 76.35,278.85 76.7,278.86 77.05,278.86 77.4,278.86 77.75,278.87 78.1,278.87 78.45,278.87 78.8,278.87 79.15,278.86 79.5,278.86 79.85,278.85 80.2,278.84 80.55,278.83 80.9,278.78 81.25,278.56 81.6,277.79 81.95,276.47 82.3,276.07 82.65,277.24 83,278.32 83.35,278.72 83.7,278.81 84.05,278.83 84.4,278.83 84.75,278.82 85.1,278.77 85.45,278.54 85.8,277.98 86.15,277.48 86.5,277.79 86.85,278.42 87.2,278.74 87.55,278.83 87.9,278.85 88.25,278.85 88.6,278.85 88.95,278.85 89.3,278.85 89.65,278.85 90,278.84 90.35,278.84 90.7,278.82 91.05,278.8 91.4,278.75 91.75,278.53 92.1,277.75 92.45,276.42 92.8,276.01 93.15,277.17 93.5,278.23 93.85,278.61 94.2,278.67 94.55,278.64 94.9,278.55 95.25,278.26 95.6,277.21 95.95,274.26 96.3,269.3 96.65,265.75 97,267.9 97.35,272.98 97.7,276.62 98.05,278.1 98.4,278.52 98.75,278.65 99.1,278.71 99.45,278.75 99.8,278.78 100.15,278.8 100.5,278.81 100.85,278.82 101.2,278.82 101.55,278.83 101.9,278.82 102.25,278.81 102.6,278.78 102.95,278.6 103.3,277.96 103.65,276.87 104,276.54 104.35,277.51 104.7,278.41 105.05,278.74 105.4,278.81 105.75,278.83 106.1,278.84 106.45,278.85 106.8,278.85 107.15,278.84 107.5,278.83 107.85,278.81 108.2,278.76 108.55,278.5 108.9,277.6 109.25,276.06 109.6,275.59 109.95,276.96 110.3,278.23 110.65,278.7 111,278.81 111.35,278.84 111.7,278.85 112.05,278.86 112.4,278.87 112.75,278.87 113.1,278.87 113.45,278.88 113.8,278.88 114.15,278.88 114.5,278.88 114.85,278.88 115.2,278.87 115.55,278.87 115.9,278.87 116.25,278.86 116.6,278.84 116.95,278.74 117.3,278.37 117.65,277.55 118,276.99 118.35,277.55 118.7,278.37 119.05,278.74 119.4,278.84 119.75,278.86 120.1,278.87 120.45,278.87 120.8,278.87 121.15,278.88 121.5,278.88 121.85,278.88 122.2,278.87 122.55,278.87 122.9,278.86 123.25,278.85 123.6,278.78 123.95,278.5 124.3,277.81 124.65,277.2 125,277.58 125.35,278.34 125.7,278.73 126.05,278.84 126.4,278.86 126.75,278.87 127.1,278.88 127.45,278.88 127.8,278.88 128.15,278.88 128.5,278.88 128.85,278.88 129.2,278.88 129.55,278.88 129.9,278.87 130.25,278.87 130.6,278.86 130.95,278.83 131.3,278.72 131.65,278.28 132,277.43 132.35,277.01 132.7,277.69 133.05,278.45 133.4,278.77 133.75,278.84 134.1,278.86 134.45,278.87 134.8,278.88 135.15,278.88 135.5,278.88 135.85,278.88 136.2,278.88 136.55,278.88 136.9,278.88 137.25,278.88 137.6,278.88 137.95,278.88 138.3,278.88 138.65,278.87 139,278.86 139.35,278.85 139.7,278.77 140.05,278.45 140.4,277.69 140.75,277.01 141.1,277.43 141.45,278.28 141.8,278.72 142.15,278.83 142.5,278.86 142.85,278.87 143.2,278.88 143.55,278.88 143.9,278.88 144.25,278.88 144.6,278.88 144.95,278.89 145.3,278.89 145.65,278.88 146,278.88 146.35,278.88 146.7,278.88 147.05,278.87 147.4,278.87 147.75,278.85 148.1,278.81 148.45,278.59 148.8,277.94 149.15,277.12 149.5,277.21 149.85,278.07 150.2,278.64 150.55,278.82 150.9,278.86 151.25,278.87 151.6,278.88 151.95,278.88 152.3,278.88 152.65,278.88 153,278.89 153.35,278.89 153.7,278.89 154.05,278.89 154.4,278.89 154.75,278.89 155.1,278.89 155.45,278.88 155.8,278.88 156.15,278.88 156.5,278.88 156.85,278.87 157.2,278.86 157.55,278.82 157.9,278.64 158.25,278.06 158.6,277.21 158.95,277.12 159.3,277.94 159.65,278.59 160,278.8 160.35,278.85 160.7,278.86 161.05,278.87 161.4,278.88 161.75,278.88 162.1,278.88 162.45,278.88 162.8,278.88 163.15,278.87 163.5,278.87 163.85,278.86 164.2,278.83 164.55,278.68 164.9,278.18 165.25,277.31 165.6,277.05 165.95,277.82 166.3,278.53 166.65,278.79 167,278.85 167.35,278.87 167.7,278.87 168.05,278.88 168.4,278.88 168.75,278.88 169.1,278.89 169.45,278.89 169.8,278.89 170.15,278.89 170.5,278.89 170.85,278.89 171.2,278.89 171.55,278.89 171.9,278.88 172.25,278.88 172.6,278.88 172.95,278.88 173.3,278.87 173.65,278.87 174,278.86 174.35,278.84 174.7,278.78 175.05,278.5 175.4,277.68 175.75,276.64 176.1,276.75 176.45,277.82 176.8,278.54 177.15,278.75 177.5,278.74 177.85,278.48 178.2,277.67 178.55,276.63 178.9,276.75 179.25,277.84 179.6,278.56 179.95,278.79 180.3,278.84 180.65,278.86 181,278.87 181.35,278.87 181.7,278.88 182.05,278.88 182.4,278.88 182.75,278.88 183.1,278.88 183.45,278.88 183.8,278.88 184.15,278.87 184.5,278.86 184.85,278.85 185.2,278.78 185.55,278.5 185.9,277.81 186.25,277.21 186.6,277.58 186.95,278.34 187.3,278.74 187.65,278.84 188,278.86 188.35,278.87 188.7,278.88 189.05,278.88 189.4,278.88 189.75,278.88 190.1,278.88 190.45,278.88 190.8,278.87 191.15,278.87 191.5,278.85 191.85,278.8 192.2,278.56 192.55,277.93 192.9,277.25 193.25,277.48 193.6,278.25 193.95,278.71 194.3,278.83 194.65,278.86 195,278.87 195.35,278.88 195.7,278.88 196.05,278.88 196.4,278.89 196.75,278.89 197.1,278.89 197.45,278.89 197.8,278.89 198.15,278.89 198.5,278.89 198.85,278.89 199.2,278.89 199.55,278.88 199.9,278.88 200.25,278.88 200.6,278.87 200.95,278.86 201.3,278.82 201.65,278.64 202,278.09 202.35,277.4 202.7,277.47 203.05,278.2 203.4,278.68 203.75,278.83 204.1,278.86 204.45,278.87 204.8,278.87 205.15,278.88 205.5,278.88 205.85,278.87 206.2,278.87 206.55,278.86 206.9,278.84 207.25,278.71 207.6,278.29 207.95,277.56 208.3,277.34 208.65,277.99 209,278.58 209.35,278.81 209.7,278.86 210.05,278.87 210.4,278.88 210.75,278.88 211.1,278.88 211.45,278.88 211.8,278.88 212.15,278.88 212.5,278.88 212.85,278.87 213.2,278.86 213.55,278.83 213.9,278.68 214.25,278.2 214.6,277.48 214.95,277.4 215.3,278.1 215.65,278.64 216,278.82 216.35,278.86 216.7,278.87 217.05,278.88 217.4,278.89 217.75,278.89 218.1,278.89 218.45,278.89 218.8,278.89 219.15,278.89 219.5,278.89 219.85,278.89 220.2,278.9 220.55,278.9 220.9,278.9 221.25,278.9 221.6,278.9 221.95,278.9" fill="none" stroke="#111" stroke-width="1.1" stroke-linejoin="round"/>
<polyline points="13,302.19 13.35,302.19 13.7,302.19 14.05,302.19 14.4,302.19 14.75,302.19 15.1,302.19 15.45,302.19 15.8,302.19 16.15,302.19 16.5,302.19 16.85,302.19 17.2,302.19 17.55,302.19 17.9,302.19 18.25,302.19 18.6,302.19 18.95,302.19 19.3,302.19 19.65,302.18 20,302.18 20.35,302.18 20.7,302.18 21.05,302.18 21.4,302.18 21.75,302.18 22.1,302.17 22.45,302.17 22.8,302.17 23.15,302.17 23.5,302.16 23.85,302.16 24.2,302.15 24.55,302.15 24.9,302.14 25.25,302.13 25.6,302.12 25.95,302.11 26.3,302.09 26.65,302.07 27,302.04 27.35,302 27.7,301.94 28.05,301.84 28.4,301.65 28.75,301 29.1,298.74 29.45,293.21 29.8,285.48 30.15,282.2 30.5,287.61 30.85,295.16 31.2,299.66 31.55,301.28 31.9,301.72 32.25,301.88 32.6,301.96 32.95,302.01 33.3,302.05 33.65,302.07 34,302.09 34.35,302.11 34.7,302.12 35.05,302.13 35.4,302.14 35.75,302.15 36.1,302.15 36.45,302.16 36.8,302.16 37.15,302.16 37.5,302.17 37.85,302.17 38.2,302.17 38.55,302.17 38.9,302.17 39.25,302.17 39.6,302.18 39.95,302.18 40.3,302.18 40.65,302.18 41,302.18 41.35,302.18 41.7,302.18 42.05,302.18 42.4,302.18 42.75,302.18 43.1,302.17 43.45,302.17 43.8,302.17 44.15,302.17 44.5,302.17 44.85,302.16 45.2,302.16 45.55,302.15 45.9,302.15 46.25,302.13 46.6,302.12 46.95,302.1 47.3,302.06 47.65,301.99 48,301.72 48.35,300.81 48.7,298.74 49.05,296.13 49.4,295.44 49.75,297.58 50.1,300.08 50.45,301.45 50.8,301.91 51.15,302.04 51.5,302.09 51.85,302.11 52.2,302.13 52.55,302.14 52.9,302.15 53.25,302.16 53.6,302.16 53.95,302.17 54.3,302.17 54.65,302.17 55,302.17 55.35,302.17 55.7,302.18 56.05,302.18 56.4,302.18 56.75,302.18 57.1,302.18 57.45,302.18 57.8,302.18 58.15,302.18 58.5,302.17 58.85,302.17 59.2,302.17 59.55,302.17 59.9,302.17 60.25,302.16 60.6,302.16 60.95,302.15 61.3,302.14 61.65,302.13 62,302.12 62.35,302.09 62.7,302.05 63.05,301.94 63.4,301.55 63.75,300.35 64.1,297.97 64.45,295.61 64.8,295.84 65.15,298.36 65.5,300.59 65.85,301.64 66.2,301.97 66.55,302.06 66.9,302.09 67.25,302.12 67.6,302.13 67.95,302.14 68.3,302.15 68.65,302.16 69,302.16 69.35,302.16 69.7,302.17 70.05,302.17 70.4,302.17 70.75,302.17 71.1,302.17 71.45,302.17 71.8,302.17 72.15,302.17 72.5,302.17 72.85,302.16 73.2,302.16 73.55,302.16 73.9,302.15 74.25,302.14 74.6,302.13 74.95,302.11 75.3,302.09 75.65,302.03 76,301.87 76.35,301.28 76.7,299.73 77.05,297.35 77.4,295.99 77.75,297.35 78.1,299.73 78.45,301.28 78.8,301.87 79.15,302.04 79.5,302.09 79.85,302.11 80.2,302.13 80.55,302.14 80.9,302.15 81.25,302.16 81.6,302.16 81.95,302.17 82.3,302.17 82.65,302.17 83,302.17 83.35,302.17 83.7,302.17 84.05,302.17 84.4,302.17 84.75,302.17 85.1,302.17 85.45,302.17 85.8,302.17 86.15,302.16 86.5,302.15 86.85,302.14 87.2,302.1 87.55,301.95 87.9,301.51 88.25,300.72 88.6,300.03 88.95,300.25 89.3,301.09 89.65,301.75 90,302.03 90.35,302.12 90.7,302.14 91.05,302.15 91.4,302.16 91.75,302.16 92.1,302.16 92.45,302.17 92.8,302.17 93.15,302.16 93.5,302.16 93.85,302.16 94.2,302.16 94.55,302.15 94.9,302.14 95.25,302.13 95.6,302.12 95.95,302.1 96.3,302.07 96.65,302.03 97,301.91 97.35,301.52 97.7,300.22 98.05,297.47 98.4,294.37 98.75,294.08 99.1,296.99 99.45,299.92 99.8,301.4 100.15,301.88 100.5,302.02 100.85,302.07 101.2,302.1 101.55,302.12 101.9,302.13 102.25,302.14 102.6,302.15 102.95,302.15 103.3,302.16 103.65,302.16 104,302.16 104.35,302.16 104.7,302.16 105.05,302.15 105.4,302.14 105.75,302.13 106.1,302.11 106.45,302.04 106.8,301.78 107.15,301.07 107.5,299.87 107.85,299.01 108.2,299.53 108.55,300.76 108.9,301.64 109.25,302 109.6,302.1 109.95,302.14 110.3,302.15 110.65,302.16 111,302.17 111.35,302.17 111.7,302.18 112.05,302.18 112.4,302.18 112.75,302.18 113.1,302.18 113.45,302.19 113.8,302.19 114.15,302.19 114.5,302.19 114.85,302.19 115.2,302.19 115.55,302.19 115.9,302.19 116.25,302.19 116.6,302.19 116.95,302.19 117.3,302.19 117.65,302.19 118,302.19 118.35,302.19 118.7,302.19 119.05,302.19 119.4,302.19 119.75,302.19 120.1,302.19 120.45,302.19 120.8,302.19 121.15,302.18 121.5,302.18 121.85,302.18 122.2,302.17 122.55,302.17 122.9,302.15 123.25,302.13 123.6,302.02 123.95,301.57 124.3,300.48 124.65,299.52 125,300.12 125.35,301.32 125.7,301.95 126.05,302.11 126.4,302.15 126.75,302.16 127.1,302.17 127.45,302.18 127.8,302.18 128.15,302.19 128.5,302.19 128.85,302.19 129.2,302.19 129.55,302.19 129.9,302.19 130.25,302.19 130.6,302.19 130.95,302.19 131.3,302.19 131.65,302.19 132,302.2 132.35,302.2 132.7,302.2 133.05,302.2 133.4,302.2 133.75,302.2 134.1,302.2 134.45,302.2 134.8,302.2 135.15,302.2 135.5,302.2 135.85,302.2 136.2,302.2 136.55,302.2 136.9,302.2 137.25,302.2 137.6,302.2 137.95,302.2 138.3,302.2 138.65,302.2 139,302.2 139.35,302.2 139.7,302.2 140.05,302.2 140.4,302.2 140.75,302.2 141.1,302.2 141.45,302.2 141.8,302.2 142.15,302.2 142.5,302.2 142.85,302.2 143.2,302.2 143.55,302.2 143.9,302.2 144.25,302.2 144.6,302.2 144.95,302.2 145.3,302.2 145.65,302.2 146,302.2 146.35,302.2 146.7,302.2 147.05,302.2 147.4,302.2 147.75,302.19 148.1,302.19 148.45,302.19 148.8,302.19 149.15,302.19 149.5,302.19 149.85,302.19 150.2,302.19 150.55,302.19 150.9,302.18 151.25,302.18 151.6,302.18 151.95,302.17 152.3,302.16 152.65,302.12 153,301.98 153.35,301.42 153.7,300.35 154.05,299.82 154.4,300.67 154.75,301.64 155.1,302.04 155.45,302.14 155.8,302.16 156.15,302.17 156.5,302.18 156.85,302.18 157.2,302.18 157.55,302.19 157.9,302.19 158.25,302.19 158.6,302.19 158.95,302.19 159.3,302.19 159.65,302.19 160,302.19 160.35,302.19 160.7,302.19 161.05,302.19 161.4,302.19 161.75,302.19 162.1,302.19 162.45,302.19 162.8,302.19 163.15,302.19 163.5,302.19 163.85,302.19 164.2,302.19 164.55,302.18 164.9,302.18 165.25,302.18 165.6,302.17 165.95,302.15 166.3,302.08 166.65,301.8 167,301.12 167.35,300.51 167.7,300.89 168.05,301.64 168.4,302.03 168.75,302.14 169.1,302.16 169.45,302.17 169.8,302.17 170.15,302.17 170.5,302.17 170.85,302.17 171.2,302.16 171.55,302.14 171.9,302.07 172.25,301.75 172.6,300.99 172.95,300.31 173.3,300.73 173.65,301.58 174,302.02 174.35,302.13 174.7,302.16 175.05,302.17 175.4,302.17 175.75,302.18 176.1,302.18 176.45,302.18 176.8,302.18 177.15,302.18 177.5,302.17 177.85,302.17 178.2,302.15 178.55,302.1 178.9,301.86 179.25,301.23 179.6,300.54 179.95,300.78 180.3,301.55 180.65,302 181,302.13 181.35,302.16 181.7,302.17 182.05,302.17 182.4,302.17 182.75,302.17 183.1,302.16 183.45,302.15 183.8,302.11 184.15,301.92 184.5,301.34 184.85,300.6 185.2,300.68 185.55,301.45 185.9,301.96 186.25,302.12 186.6,302.16 186.95,302.17 187.3,302.17 187.65,302.18 188,302.18 188.35,302.18 188.7,302.17 189.05,302.17 189.4,302.16 189.75,302.12 190.1,301.97 190.45,301.45 190.8,300.69 191.15,300.61 191.5,301.35 191.85,301.92 192.2,302.12 192.55,302.16 192.9,302.17 193.25,302.18 193.6,302.18 193.95,302.19 194.3,302.19 194.65,302.19 195,302.19 195.35,302.19 195.7,302.19 196.05,302.19 196.4,302.19 196.75,302.19 197.1,302.19 197.45,302.19 197.8,302.19 198.15,302.19 198.5,302.19 198.85,302.19 199.2,302.19 199.55,302.19 199.9,302.18 200.25,302.18 200.6,302.17 200.95,302.16 201.3,302.12 201.65,301.92 202,301.35 202.35,300.61 202.7,300.69 203.05,301.45 203.4,301.97 203.75,302.13 204.1,302.16 204.45,302.17 204.8,302.18 205.15,302.18 205.5,302.18 205.85,302.18 206.2,302.18 206.55,302.18 206.9,302.17 207.25,302.17 207.6,302.15 207.95,302.06 208.3,301.73 208.65,301 209,300.5 209.35,301 209.7,301.73 210.05,302.06 210.4,302.15 210.75,302.17 211.1,302.18 211.45,302.18 211.8,302.18 212.15,302.19 212.5,302.19 212.85,302.19 213.2,302.19 213.55,302.19 213.9,302.19 214.25,302.19 214.6,302.19 214.95,302.18 215.3,302.18 215.65,302.17 216,302.16 216.35,302.13 216.7,301.97 217.05,301.46 217.4,300.69 217.75,300.61 218.1,301.35 218.45,301.92 218.8,302.12 219.15,302.16 219.5,302.17 219.85,302.18 220.2,302.19 220.55,302.19 220.9,302.19 221.25,302.19 221.6,302.19 221.95,302.19" fill="none" stroke="#111" stroke-width="1.1" stroke-linejoin="round"/>
<path d="M12.3 308.3H223.2" stroke="#111" stroke-width="1.3"/>
<path d="M12.8 305.2V308.3 M27.8 306.6V308.3 M42.8 305.2V308.3 M57.8 306.6V308.3 M72.8 305.2V308.3 M87.8 306.6V308.3 M102.8 305.2V308.3 M117.8 306.6V308.3 M132.8 305.2V308.3 M147.8 306.6V308.3 M162.8 305.2V308.3 M177.8 306.6V308.3 M192.8 305.2V308.3 M207.8 306.6V308.3 M222.8 305.2V308.3" stroke="#111" stroke-width="1.1"/>
<text x="12.8" y="318.6" font-size="8.6" fill="#000" text-anchor="middle" style="font-family:'Liberation Sans',sans-serif;font-weight:bold" >5</text>
<text x="42.8" y="318.6" font-size="8.6" fill="#000" text-anchor="middle" style="font-family:'Liberation Sans',sans-serif;font-weight:bold" >10</text>
<text x="72.8" y="318.6" font-size="8.6" fill="#000" text-anchor="middle" style="font-family:'Liberation Sans',sans-serif;font-weight:bold" >15</text>
<text x="102.8" y="318.6" font-size="8.6" fill="#000" text-anchor="middle" style="font-family:'Liberation Sans',sans-serif;font-weight:bold" >20</text>
<text x="132.8" y="318.6" font-size="8.6" fill="#000" text-anchor="middle" style="font-family:'Liberation Sans',sans-serif;font-weight:bold" >25</text>
<text x="162.8" y="318.6" font-size="8.6" fill="#000" text-anchor="middle" style="font-family:'Liberation Sans',sans-serif;font-weight:bold" >30</text>
<text x="192.8" y="318.6" font-size="8.6" fill="#000" text-anchor="middle" style="font-family:'Liberation Sans',sans-serif;font-weight:bold" >35</text>
<text x="222.8" y="318.6" font-size="8.6" fill="#000" text-anchor="middle" style="font-family:'Liberation Sans',sans-serif;font-weight:bold" >40</text>
<text x="101.8" y="335.6" style="font-family:'Liberation Sans',sans-serif;font-weight:bold" font-size="12.5" textLength="32" lengthAdjust="spacingAndGlyphs">2θ (°)</text>
<text x="149.4" y="189.6" font-size="9.7" fill="#000" text-anchor="start" style="font-family:'Liberation Sans',sans-serif;font-weight:bold" textLength="74.4" lengthAdjust="spacingAndGlyphs" >GOx@Tf<tspan font-weight="normal">⊂</tspan>ZPF-2</text>
<text x="165.7" y="215.9" font-size="9.7" fill="#000" text-anchor="start" style="font-family:'Liberation Sans',sans-serif;font-weight:bold" textLength="56.4" lengthAdjust="spacingAndGlyphs" >GOx@ZPF-8</text>
<text x="166.4" y="243.2" font-size="9.7" fill="#000" text-anchor="start" style="font-family:'Liberation Sans',sans-serif;font-weight:bold" textLength="57.4" lengthAdjust="spacingAndGlyphs" >GOx@ZPF-2</text>
<text x="143.3" y="273" font-size="9.7" fill="#000" text-anchor="start" style="font-family:'Liberation Sans',sans-serif;font-weight:bold" textLength="78.5" lengthAdjust="spacingAndGlyphs" >ZPF-2-calculated</text>
<text x="143.3" y="296.7" font-size="9.7" fill="#000" text-anchor="start" style="font-family:'Liberation Sans',sans-serif;font-weight:bold" textLength="78.1" lengthAdjust="spacingAndGlyphs" >ZPF-8-calculated</text>
<text x="223.2" y="171.3" font-size="30" fill="#000" text-anchor="start" style="font-family:'Liberation Serif',serif;font-weight:bold" >c</text>
<rect x="238.1" y="168.6" width="142.5" height="148.2" fill="#000"/>
<rect x="382.8" y="168.6" width="143.4" height="148.2" fill="#000"/>
<rect x="528" y="168.6" width="142.8" height="148.2" fill="#000"/>
<g filter="url(#blur2)"><ellipse cx="310" cy="241" rx="27.6" ry="25.4" fill="#ee1414"/><ellipse cx="329" cy="240" rx="8.5" ry="19" fill="#ff2626"/><path d="M292.5 236 L299.5 231 L308 232 L310 246 L306 256 L296 256 L291 247Z" fill="#060000"/><path d="M308.5 211 L316.5 211 L319 230 L323 249 L317.5 251 L314 236Z" fill="#0a0000"/><ellipse cx="314" cy="244" rx="5" ry="8" fill="#0a0000"/><ellipse cx="306" cy="252" rx="6" ry="3" fill="#200000"/><circle cx="311.4" cy="240.6" r="3.6" fill="#ff2a2a"/></g>
<g filter="url(#blur2)"><path d="M426 236 C427 222 440 217 455 218 C472 219 482 226 482 240 C482 256 475 270 455 270.5 C436 271 425 262 425 248Z" fill="#1ee61e"/><ellipse cx="453.2" cy="241.8" rx="5.2" ry="3.2" fill="#053005"/><path d="M446 251 L457 240" stroke="#10a010" stroke-width="2.2" opacity="0.6"/></g>
<g filter="url(#blur2)"><path d="M572 240 C572 225 585 217 602 217.5 C620 218 630 228 630 242 C630 258 620 271 600 271.5 C583 272 572 260 572 246Z" fill="#d8b81e"/><path d="M582.5 248 C582.5 239 588 236 595 236.5 C601 237 603 244 602 251 C601 259 595 261.5 589 260.5 C584.5 259.5 582.5 254 582.5 248Z" fill="#1cb41c"/><ellipse cx="608.5" cy="248" rx="3.5" ry="6" fill="#88c020" opacity="0.8"/><path d="M606 219 C607 227 607 234 605 242 C604 248 601 252 597 254" stroke="#2cb42c" stroke-width="5.5" fill="none"/><circle cx="603" cy="244.5" r="3.2" fill="#d4bc30"/><ellipse cx="594" cy="269.5" rx="7" ry="2.4" fill="#d82010"/><path d="M574 232 C578 224 586 219 596 218" stroke="#8cc020" stroke-width="3" fill="none" opacity="0.7"/></g>
<text x="273" y="194.5" font-size="14.2" fill="#fff" text-anchor="start" style="font-family:'Liberation Sans',sans-serif;font-weight:bold" textLength="75.7" lengthAdjust="spacingAndGlyphs" >Transferrin</text>
<text x="398.4" y="194.3" font-size="14.2" fill="#fff" text-anchor="start" style="font-family:'Liberation Sans',sans-serif;font-weight:bold" textLength="118.5" lengthAdjust="spacingAndGlyphs" >Glucose oxidase</text>
<text x="574.7" y="192.8" font-size="14.2" fill="#fff" text-anchor="start" style="font-family:'Liberation Sans',sans-serif;font-weight:bold" textLength="54.3" lengthAdjust="spacingAndGlyphs" >overlap</text>
<text x="337" y="298.6" font-size="13.4" fill="#fff" text-anchor="start" style="font-family:'Liberation Sans',sans-serif;font-weight:bold" textLength="43.2" lengthAdjust="spacingAndGlyphs" >100nm</text>
<rect x="344.9" y="304" width="29.9" height="6" fill="#fff"/>
<text x="482" y="298.6" font-size="13.4" fill="#fff" text-anchor="start" style="font-family:'Liberation Sans',sans-serif;font-weight:bold" textLength="43.2" lengthAdjust="spacingAndGlyphs" >100nm</text>
<rect x="487.3" y="304" width="31.1" height="6" fill="#fff"/>
<text x="627" y="298.6" font-size="13.4" fill="#fff" text-anchor="start" style="font-family:'Liberation Sans',sans-serif;font-weight:bold" textLength="43.2" lengthAdjust="spacingAndGlyphs" >100nm</text>
<rect x="633.5" y="304" width="30.2" height="6" fill="#fff"/>
<text x="-1.5" y="349.6" font-size="30" fill="#000" text-anchor="start" style="font-family:'Liberation Serif',serif;font-weight:bold" >d</text>
<rect x="60.5" y="376.35" width="5.4" height="155.25" fill="url(#pd0)"/>
<rect x="66.62" y="376.35" width="5.4" height="155.25" fill="url(#pd1)"/>
<rect x="72.74" y="376.35" width="5.4" height="155.25" fill="url(#pd2)"/>
<rect x="78.86" y="376.35" width="5.4" height="155.25" fill="url(#pd3)"/>
<rect x="84.98" y="376.35" width="5.4" height="155.25" fill="url(#pd4)"/>
<rect x="99.55" y="394.05" width="5.4" height="137.55" fill="url(#pd0)"/>
<rect x="105.67" y="398.71" width="5.4" height="132.89" fill="url(#pd1)"/>
<rect x="111.79" y="398.71" width="5.4" height="132.89" fill="url(#pd2)"/>
<rect x="117.91" y="398.09" width="5.4" height="133.51" fill="url(#pd3)"/>
<rect x="124.03" y="378.37" width="5.4" height="153.23" fill="url(#pd4)"/>
<rect x="138.6" y="387.84" width="5.4" height="143.76" fill="url(#pd0)"/>
<rect x="144.72" y="403.52" width="5.4" height="128.08" fill="url(#pd1)"/>
<rect x="150.84" y="403.52" width="5.4" height="128.08" fill="url(#pd2)"/>
<rect x="156.96" y="412.83" width="5.4" height="118.77" fill="url(#pd3)"/>
<rect x="163.08" y="394.05" width="5.4" height="137.55" fill="url(#pd4)"/>
<rect x="177.65" y="400.41" width="5.4" height="131.19" fill="url(#pd0)"/>
<rect x="183.77" y="405.54" width="5.4" height="126.06" fill="url(#pd1)"/>
<rect x="189.89" y="404.76" width="5.4" height="126.84" fill="url(#pd2)"/>
<rect x="196.01" y="394.2" width="5.4" height="137.4" fill="url(#pd3)"/>
<rect x="202.13" y="412.06" width="5.4" height="119.54" fill="url(#pd4)"/>
<rect x="216.7" y="397" width="5.4" height="134.6" fill="url(#pd0)"/>
<rect x="222.82" y="397" width="5.4" height="134.6" fill="url(#pd1)"/>
<rect x="228.94" y="397" width="5.4" height="134.6" fill="url(#pd2)"/>
<rect x="235.06" y="458.17" width="5.4" height="73.43" fill="url(#pd3)"/>
<rect x="241.18" y="397.62" width="5.4" height="133.98" fill="url(#pd4)"/>
<rect x="255.75" y="392.5" width="5.4" height="139.1" fill="url(#pd0)"/>
<rect x="261.87" y="383.34" width="5.4" height="148.26" fill="url(#pd1)"/>
<rect x="267.99" y="406.62" width="5.4" height="124.98" fill="url(#pd2)"/>
<rect x="274.11" y="478.97" width="5.4" height="52.63" fill="url(#pd3)"/>
<rect x="280.23" y="410.82" width="5.4" height="120.78" fill="url(#pd4)"/>
<rect x="294.8" y="387.84" width="5.4" height="143.76" fill="url(#pd0)"/>
<rect x="300.92" y="476.8" width="5.4" height="54.8" fill="url(#pd1)"/>
<rect x="307.04" y="467.02" width="5.4" height="64.58" fill="url(#pd2)"/>
<rect x="313.16" y="480.99" width="5.4" height="50.61" fill="url(#pd3)"/>
<rect x="319.28" y="458.01" width="5.4" height="73.59" fill="url(#pd4)"/>
<circle cx="62.5" cy="372.62" r="1.95" fill="#fff" stroke="#000" stroke-width="1.05"/>
<circle cx="64.2" cy="376.19" r="1.95" fill="#fff" stroke="#000" stroke-width="1.05"/>
<circle cx="62.5" cy="379.92" r="1.95" fill="#fff" stroke="#000" stroke-width="1.05"/>
<circle cx="68.62" cy="372.62" r="1.95" fill="#ff8080" stroke="#000" stroke-width="1.05"/>
<circle cx="70.32" cy="376.19" r="1.95" fill="#fff" stroke="#000" stroke-width="1.05"/>
<circle cx="68.62" cy="379.92" r="1.95" fill="#fff" stroke="#000" stroke-width="1.05"/>
<circle cx="74.74" cy="372.62" r="1.95" fill="#ff3c3c" stroke="#000" stroke-width="1.05"/>
<circle cx="76.44" cy="376.19" r="1.95" fill="#fff" stroke="#000" stroke-width="1.05"/>
<circle cx="74.74" cy="379.92" r="1.95" fill="#fff" stroke="#000" stroke-width="1.05"/>
<circle cx="80.86" cy="372.62" r="1.95" fill="#ff0000" stroke="#000" stroke-width="1.05"/>
<circle cx="82.56" cy="376.19" r="1.95" fill="#fff" stroke="#000" stroke-width="1.05"/>
<circle cx="80.86" cy="379.92" r="1.95" fill="#fff" stroke="#000" stroke-width="1.05"/>
<circle cx="86.98" cy="372.62" r="1.95" fill="#000" stroke="#000" stroke-width="1.05"/>
<circle cx="88.68" cy="376.19" r="1.95" fill="#fff" stroke="#000" stroke-width="1.05"/>
<circle cx="86.98" cy="379.92" r="1.95" fill="#fff" stroke="#000" stroke-width="1.05"/>
<circle cx="101.55" cy="390.32" r="1.95" fill="#fff" stroke="#000" stroke-width="1.05"/>
<circle cx="103.25" cy="393.89" r="1.95" fill="#fff" stroke="#000" stroke-width="1.05"/>
<circle cx="101.55" cy="397.62" r="1.95" fill="#fff" stroke="#000" stroke-width="1.05"/>
<circle cx="107.67" cy="394.98" r="1.95" fill="#ff8080" stroke="#000" stroke-width="1.05"/>
<circle cx="109.37" cy="398.55" r="1.95" fill="#fff" stroke="#000" stroke-width="1.05"/>
<circle cx="107.67" cy="402.28" r="1.95" fill="#fff" stroke="#000" stroke-width="1.05"/>
<circle cx="113.79" cy="394.98" r="1.95" fill="#ff3c3c" stroke="#000" stroke-width="1.05"/>
<circle cx="115.49" cy="398.55" r="1.95" fill="#fff" stroke="#000" stroke-width="1.05"/>
<circle cx="113.79" cy="402.28" r="1.95" fill="#fff" stroke="#000" stroke-width="1.05"/>
<circle cx="119.91" cy="394.36" r="1.95" fill="#ff0000" stroke="#000" stroke-width="1.05"/>
<circle cx="121.61" cy="397.93" r="1.95" fill="#fff" stroke="#000" stroke-width="1.05"/>
<circle cx="119.91" cy="401.66" r="1.95" fill="#fff" stroke="#000" stroke-width="1.05"/>
<circle cx="126.03" cy="374.64" r="1.95" fill="#000" stroke="#000" stroke-width="1.05"/>
<circle cx="127.73" cy="378.21" r="1.95" fill="#fff" stroke="#000" stroke-width="1.05"/>
<circle cx="126.03" cy="381.94" r="1.95" fill="#fff" stroke="#000" stroke-width="1.05"/>
<circle cx="140.6" cy="384.11" r="1.95" fill="#fff" stroke="#000" stroke-width="1.05"/>
<circle cx="142.3" cy="387.68" r="1.95" fill="#fff" stroke="#000" stroke-width="1.05"/>
<circle cx="140.6" cy="391.41" r="1.95" fill="#fff" stroke="#000" stroke-width="1.05"/>
<circle cx="146.72" cy="399.79" r="1.95" fill="#ff8080" stroke="#000" stroke-width="1.05"/>
<circle cx="148.42" cy="403.36" r="1.95" fill="#fff" stroke="#000" stroke-width="1.05"/>
<circle cx="146.72" cy="407.09" r="1.95" fill="#fff" stroke="#000" stroke-width="1.05"/>
<circle cx="152.84" cy="399.79" r="1.95" fill="#ff3c3c" stroke="#000" stroke-width="1.05"/>
<circle cx="154.54" cy="403.36" r="1.95" fill="#fff" stroke="#000" stroke-width="1.05"/>
<circle cx="152.84" cy="407.09" r="1.95" fill="#fff" stroke="#000" stroke-width="1.05"/>
<circle cx="158.96" cy="409.11" r="1.95" fill="#ff0000" stroke="#000" stroke-width="1.05"/>
<circle cx="160.66" cy="412.68" r="1.95" fill="#fff" stroke="#000" stroke-width="1.05"/>
<circle cx="158.96" cy="416.4" r="1.95" fill="#fff" stroke="#000" stroke-width="1.05"/>
<circle cx="165.08" cy="390.32" r="1.95" fill="#000" stroke="#000" stroke-width="1.05"/>
<circle cx="166.78" cy="393.89" r="1.95" fill="#fff" stroke="#000" stroke-width="1.05"/>
<circle cx="165.08" cy="397.62" r="1.95" fill="#fff" stroke="#000" stroke-width="1.05"/>
<circle cx="179.65" cy="396.69" r="1.95" fill="#fff" stroke="#000" stroke-width="1.05"/>
<circle cx="181.35" cy="400.26" r="1.95" fill="#fff" stroke="#000" stroke-width="1.05"/>
<circle cx="179.65" cy="403.98" r="1.95" fill="#fff" stroke="#000" stroke-width="1.05"/>
<circle cx="185.77" cy="401.81" r="1.95" fill="#ff8080" stroke="#000" stroke-width="1.05"/>
<circle cx="187.47" cy="405.38" r="1.95" fill="#fff" stroke="#000" stroke-width="1.05"/>
<circle cx="185.77" cy="409.11" r="1.95" fill="#fff" stroke="#000" stroke-width="1.05"/>
<circle cx="191.89" cy="401.03" r="1.95" fill="#ff3c3c" stroke="#000" stroke-width="1.05"/>
<circle cx="193.59" cy="404.61" r="1.95" fill="#fff" stroke="#000" stroke-width="1.05"/>
<circle cx="191.89" cy="408.33" r="1.95" fill="#fff" stroke="#000" stroke-width="1.05"/>
<circle cx="198.01" cy="390.48" r="1.95" fill="#ff0000" stroke="#000" stroke-width="1.05"/>
<circle cx="199.71" cy="394.05" r="1.95" fill="#fff" stroke="#000" stroke-width="1.05"/>
<circle cx="198.01" cy="397.77" r="1.95" fill="#fff" stroke="#000" stroke-width="1.05"/>
<circle cx="204.13" cy="408.33" r="1.95" fill="#000" stroke="#000" stroke-width="1.05"/>
<circle cx="205.83" cy="411.9" r="1.95" fill="#fff" stroke="#000" stroke-width="1.05"/>
<circle cx="204.13" cy="415.63" r="1.95" fill="#fff" stroke="#000" stroke-width="1.05"/>
<circle cx="218.7" cy="393.27" r="1.95" fill="#fff" stroke="#000" stroke-width="1.05"/>
<circle cx="220.4" cy="396.84" r="1.95" fill="#fff" stroke="#000" stroke-width="1.05"/>
<circle cx="218.7" cy="400.57" r="1.95" fill="#fff" stroke="#000" stroke-width="1.05"/>
<circle cx="224.82" cy="393.27" r="1.95" fill="#ff8080" stroke="#000" stroke-width="1.05"/>
<circle cx="226.52" cy="396.84" r="1.95" fill="#fff" stroke="#000" stroke-width="1.05"/>
<circle cx="224.82" cy="400.57" r="1.95" fill="#fff" stroke="#000" stroke-width="1.05"/>
<circle cx="230.94" cy="393.27" r="1.95" fill="#ff3c3c" stroke="#000" stroke-width="1.05"/>
<circle cx="232.64" cy="396.84" r="1.95" fill="#fff" stroke="#000" stroke-width="1.05"/>
<circle cx="230.94" cy="400.57" r="1.95" fill="#fff" stroke="#000" stroke-width="1.05"/>
<circle cx="237.06" cy="454.44" r="1.95" fill="#ff0000" stroke="#000" stroke-width="1.05"/>
<circle cx="238.76" cy="458.01" r="1.95" fill="#fff" stroke="#000" stroke-width="1.05"/>
<circle cx="237.06" cy="461.74" r="1.95" fill="#fff" stroke="#000" stroke-width="1.05"/>
<circle cx="243.18" cy="393.89" r="1.95" fill="#000" stroke="#000" stroke-width="1.05"/>
<circle cx="244.88" cy="397.46" r="1.95" fill="#fff" stroke="#000" stroke-width="1.05"/>
<circle cx="243.18" cy="401.19" r="1.95" fill="#fff" stroke="#000" stroke-width="1.05"/>
<circle cx="257.75" cy="388.77" r="1.95" fill="#fff" stroke="#000" stroke-width="1.05"/>
<circle cx="259.45" cy="392.34" r="1.95" fill="#fff" stroke="#000" stroke-width="1.05"/>
<circle cx="257.75" cy="396.07" r="1.95" fill="#fff" stroke="#000" stroke-width="1.05"/>
<circle cx="263.87" cy="379.61" r="1.95" fill="#ff8080" stroke="#000" stroke-width="1.05"/>
<circle cx="265.57" cy="383.18" r="1.95" fill="#fff" stroke="#000" stroke-width="1.05"/>
<circle cx="263.87" cy="386.91" r="1.95" fill="#fff" stroke="#000" stroke-width="1.05"/>
<circle cx="269.99" cy="402.9" r="1.95" fill="#ff3c3c" stroke="#000" stroke-width="1.05"/>
<circle cx="271.69" cy="406.47" r="1.95" fill="#fff" stroke="#000" stroke-width="1.05"/>
<circle cx="269.99" cy="410.19" r="1.95" fill="#fff" stroke="#000" stroke-width="1.05"/>
<circle cx="276.11" cy="475.24" r="1.95" fill="#ff0000" stroke="#000" stroke-width="1.05"/>
<circle cx="277.81" cy="478.82" r="1.95" fill="#fff" stroke="#000" stroke-width="1.05"/>
<circle cx="276.11" cy="482.54" r="1.95" fill="#fff" stroke="#000" stroke-width="1.05"/>
<circle cx="282.23" cy="407.09" r="1.95" fill="#000" stroke="#000" stroke-width="1.05"/>
<circle cx="283.93" cy="410.66" r="1.95" fill="#fff" stroke="#000" stroke-width="1.05"/>
<circle cx="282.23" cy="414.39" r="1.95" fill="#fff" stroke="#000" stroke-width="1.05"/>
<circle cx="296.8" cy="384.11" r="1.95" fill="#fff" stroke="#000" stroke-width="1.05"/>
<circle cx="298.5" cy="387.68" r="1.95" fill="#fff" stroke="#000" stroke-width="1.05"/>
<circle cx="296.8" cy="391.41" r="1.95" fill="#fff" stroke="#000" stroke-width="1.05"/>
<circle cx="302.92" cy="473.07" r="1.95" fill="#ff8080" stroke="#000" stroke-width="1.05"/>
<circle cx="304.62" cy="476.64" r="1.95" fill="#fff" stroke="#000" stroke-width="1.05"/>
<circle cx="302.92" cy="480.37" r="1.95" fill="#fff" stroke="#000" stroke-width="1.05"/>
<circle cx="309.04" cy="463.29" r="1.95" fill="#ff3c3c" stroke="#000" stroke-width="1.05"/>
<circle cx="310.74" cy="466.86" r="1.95" fill="#fff" stroke="#000" stroke-width="1.05"/>
<circle cx="309.04" cy="470.59" r="1.95" fill="#fff" stroke="#000" stroke-width="1.05"/>
<circle cx="315.16" cy="477.26" r="1.95" fill="#ff0000" stroke="#000" stroke-width="1.05"/>
<circle cx="316.86" cy="480.83" r="1.95" fill="#fff" stroke="#000" stroke-width="1.05"/>
<circle cx="315.16" cy="484.56" r="1.95" fill="#fff" stroke="#000" stroke-width="1.05"/>
<circle cx="321.28" cy="454.29" r="1.95" fill="#000" stroke="#000" stroke-width="1.05"/>
<circle cx="322.98" cy="457.86" r="1.95" fill="#fff" stroke="#000" stroke-width="1.05"/>
<circle cx="321.28" cy="461.58" r="1.95" fill="#fff" stroke="#000" stroke-width="1.05"/>
<path d="M53 345.2 H332.6 V531.6 H53 Z" fill="none" stroke="#000" stroke-width="1.9"/>
<path d="M53 531.6H60.7 M53 500.55H60.7 M53 469.5H60.7 M53 438.45H60.7 M53 407.4H60.7 M53 376.35H60.7 M53 345.3H60.7" stroke="#000" stroke-width="1.6"/>
<text x="48.6" y="535.8" font-size="11.8" fill="#000" text-anchor="end" style="font-family:'Liberation Sans',sans-serif;font-weight:bold" >0</text>
<text x="48.6" y="504.75" font-size="11.8" fill="#000" text-anchor="end" style="font-family:'Liberation Sans',sans-serif;font-weight:bold" >20</text>
<text x="48.6" y="473.7" font-size="11.8" fill="#000" text-anchor="end" style="font-family:'Liberation Sans',sans-serif;font-weight:bold" >40</text>
<text x="48.6" y="442.65" font-size="11.8" fill="#000" text-anchor="end" style="font-family:'Liberation Sans',sans-serif;font-weight:bold" >60</text>
<text x="48.6" y="411.6" font-size="11.8" fill="#000" text-anchor="end" style="font-family:'Liberation Sans',sans-serif;font-weight:bold" >80</text>
<text x="48.6" y="380.55" font-size="11.8" fill="#000" text-anchor="end" style="font-family:'Liberation Sans',sans-serif;font-weight:bold" >100</text>
<text x="48.6" y="349.5" font-size="11.8" fill="#000" text-anchor="end" style="font-family:'Liberation Sans',sans-serif;font-weight:bold" >120</text>
<text x="75.6" y="546" font-size="12.2" fill="#000" text-anchor="middle" style="font-family:'Liberation Sans',sans-serif;font-weight:bold" >0</text>
<text x="114.65" y="546" font-size="12.2" fill="#000" text-anchor="middle" style="font-family:'Liberation Sans',sans-serif;font-weight:bold" >10</text>
<text x="153.7" y="546" font-size="12.2" fill="#000" text-anchor="middle" style="font-family:'Liberation Sans',sans-serif;font-weight:bold" >20</text>
<text x="192.75" y="546" font-size="12.2" fill="#000" text-anchor="middle" style="font-family:'Liberation Sans',sans-serif;font-weight:bold" >30</text>
<text x="231.8" y="546" font-size="12.2" fill="#000" text-anchor="middle" style="font-family:'Liberation Sans',sans-serif;font-weight:bold" >40</text>
<text x="270.85" y="546" font-size="12.2" fill="#000" text-anchor="middle" style="font-family:'Liberation Sans',sans-serif;font-weight:bold" >50</text>
<text x="309.9" y="546" font-size="12.2" fill="#000" text-anchor="middle" style="font-family:'Liberation Sans',sans-serif;font-weight:bold" >60</text>
<text x="138.5" y="563.9" font-size="17.2" fill="#000" text-anchor="start" style="font-family:'Liberation Sans',sans-serif;font-weight:bold" textLength="107.6" lengthAdjust="spacingAndGlyphs" >Con. (μg/mL)</text>
<text transform="translate(19 501.3) rotate(-90)" x="0" y="0" style="font-family:'Liberation Sans',sans-serif;font-weight:bold" font-size="17.1" textLength="133" lengthAdjust="spacingAndGlyphs">Cell Viability (%)</text>
<rect x="58.4" y="350.5" width="20.4" height="6.2" fill="url(#pd0)"/>
<text x="89.4" y="357.7" font-size="11.8" fill="#000" text-anchor="start" style="font-family:'Liberation Sans',sans-serif;font-weight:bold" >1</text>
<rect x="114.8" y="350.5" width="20.3" height="6.2" fill="url(#pd1)"/>
<text x="145.4" y="357.7" font-size="11.8" fill="#000" text-anchor="start" style="font-family:'Liberation Sans',sans-serif;font-weight:bold" >2</text>
<rect x="175.9" y="350.5" width="20.5" height="6.2" fill="url(#pd2)"/>
<text x="206.4" y="357.7" font-size="11.8" fill="#000" text-anchor="start" style="font-family:'Liberation Sans',sans-serif;font-weight:bold" >3</text>
<rect x="233.9" y="350.5" width="20.2" height="6.2" fill="url(#pd3)"/>
<text x="264.4" y="357.7" font-size="11.8" fill="#000" text-anchor="start" style="font-family:'Liberation Sans',sans-serif;font-weight:bold" >4</text>
<rect x="288.2" y="350.5" width="19.9" height="6.2" fill="url(#pd4)"/>
<text x="318.4" y="357.7" font-size="11.8" fill="#000" text-anchor="start" style="font-family:'Liberation Sans',sans-serif;font-weight:bold" >5</text>
<path d="M220.2 387.5V370.7H238.4V454 M225.7 389.8V379.8H238.4 M231.8 393V388.2H238.4 M258 390V364.5H277.6V472.6 M264.3 381V375H277.6 M271 404V399.6H277.6" stroke="#000" stroke-width="1.8" fill="none"/>
<path d="M221.3 363.2L221.3 367.8M219.31 364.35L223.29 366.65M223.29 364.35L219.31 366.65" stroke="#5c5c5c" stroke-width="1"/>
<path d="M226.23 363.2L226.23 367.8M224.24 364.35L228.23 366.65M228.23 364.35L224.24 366.65" stroke="#5c5c5c" stroke-width="1"/>
<path d="M231.17 363.2L231.17 367.8M229.17 364.35L233.16 366.65M233.16 364.35L229.17 366.65" stroke="#5c5c5c" stroke-width="1"/>
<path d="M236.1 363.2L236.1 367.8M234.11 364.35L238.09 366.65M238.09 364.35L234.11 366.65" stroke="#5c5c5c" stroke-width="1"/>
<path d="M224.4 373.2L224.4 377.8M222.41 374.35L226.39 376.65M226.39 374.35L222.41 376.65" stroke="#5c5c5c" stroke-width="1"/>
<path d="M229.17 373.2L229.17 377.8M227.17 374.35L231.16 376.65M231.16 374.35L227.17 376.65" stroke="#5c5c5c" stroke-width="1"/>
<path d="M233.93 373.2L233.93 377.8M231.94 374.35L235.93 376.65M235.93 374.35L231.94 376.65" stroke="#5c5c5c" stroke-width="1"/>
<path d="M238.7 373.2L238.7 377.8M236.71 374.35L240.69 376.65M240.69 374.35L236.71 376.65" stroke="#5c5c5c" stroke-width="1"/>
<path d="M230.3 382L230.3 386.6M228.31 383.15L232.29 385.45M232.29 383.15L228.31 385.45" stroke="#5c5c5c" stroke-width="1"/>
<path d="M235.13 382L235.13 386.6M233.14 383.15L237.13 385.45M237.13 383.15L233.14 385.45" stroke="#5c5c5c" stroke-width="1"/>
<path d="M239.97 382L239.97 386.6M237.97 383.15L241.96 385.45M241.96 383.15L237.97 385.45" stroke="#5c5c5c" stroke-width="1"/>
<path d="M244.8 382L244.8 386.6M242.81 383.15L246.79 385.45M246.79 383.15L242.81 385.45" stroke="#5c5c5c" stroke-width="1"/>
<path d="M258.5 359L258.5 363.6M256.51 360.15L260.49 362.45M260.49 360.15L256.51 362.45" stroke="#5c5c5c" stroke-width="1"/>
<path d="M263.57 359L263.57 363.6M261.57 360.15L265.56 362.45M265.56 360.15L261.57 362.45" stroke="#5c5c5c" stroke-width="1"/>
<path d="M268.63 359L268.63 363.6M266.64 360.15L270.63 362.45M270.63 360.15L266.64 362.45" stroke="#5c5c5c" stroke-width="1"/>
<path d="M273.7 359L273.7 363.6M271.71 360.15L275.69 362.45M275.69 360.15L271.71 362.45" stroke="#5c5c5c" stroke-width="1"/>
<path d="M261.8 368.7L261.8 373.3M259.81 369.85L263.79 372.15M263.79 369.85L259.81 372.15" stroke="#5c5c5c" stroke-width="1"/>
<path d="M266.87 368.7L266.87 373.3M264.87 369.85L268.86 372.15M268.86 369.85L264.87 372.15" stroke="#5c5c5c" stroke-width="1"/>
<path d="M271.93 368.7L271.93 373.3M269.94 369.85L273.93 372.15M273.93 369.85L269.94 372.15" stroke="#5c5c5c" stroke-width="1"/>
<path d="M277 368.7L277 373.3M275.01 369.85L278.99 372.15M278.99 369.85L275.01 372.15" stroke="#5c5c5c" stroke-width="1"/>
<path d="M271.3 393.7L271.3 398.3M269.31 394.85L273.29 397.15M273.29 394.85L269.31 397.15" stroke="#5c5c5c" stroke-width="1"/>
<path d="M276.2 393.7L276.2 398.3M274.21 394.85L278.19 397.15M278.19 394.85L274.21 397.15" stroke="#5c5c5c" stroke-width="1"/>
<path d="M281.1 393.7L281.1 398.3M279.11 394.85L283.09 397.15M283.09 394.85L279.11 397.15" stroke="#5c5c5c" stroke-width="1"/>
<path d="M286 393.7L286 398.3M284.01 394.85L287.99 397.15M287.99 394.85L284.01 397.15" stroke="#5c5c5c" stroke-width="1"/>
<text x="345.5" y="349.7" font-size="31" fill="#000" text-anchor="start" style="font-family:'Liberation Serif',serif;font-weight:bold" >e</text>
<rect x="401" y="375.5" width="8.7" height="154.5" fill="url(#pe0)"/>
<rect x="411" y="375.5" width="8.7" height="154.5" fill="url(#pe1)"/>
<rect x="421" y="375.5" width="8.7" height="154.5" fill="url(#pe2)"/>
<rect x="439.85" y="387.24" width="8.7" height="142.76" fill="url(#pe0)"/>
<rect x="449.85" y="395.74" width="8.7" height="134.26" fill="url(#pe1)"/>
<rect x="459.85" y="392.96" width="8.7" height="137.04" fill="url(#pe2)"/>
<rect x="478.7" y="386.78" width="8.7" height="143.22" fill="url(#pe0)"/>
<rect x="488.7" y="411.5" width="8.7" height="118.5" fill="url(#pe1)"/>
<rect x="498.7" y="455.38" width="8.7" height="74.62" fill="url(#pe2)"/>
<rect x="517.55" y="398.52" width="8.7" height="131.48" fill="url(#pe0)"/>
<rect x="527.55" y="395.12" width="8.7" height="134.88" fill="url(#pe1)"/>
<rect x="537.55" y="464.65" width="8.7" height="65.35" fill="url(#pe2)"/>
<rect x="556.4" y="394.35" width="8.7" height="135.65" fill="url(#pe0)"/>
<rect x="566.4" y="458.78" width="8.7" height="71.22" fill="url(#pe1)"/>
<rect x="576.4" y="478.09" width="8.7" height="51.91" fill="url(#pe2)"/>
<rect x="595.25" y="391.57" width="8.7" height="138.43" fill="url(#pe0)"/>
<rect x="605.25" y="482.26" width="8.7" height="47.74" fill="url(#pe1)"/>
<rect x="615.25" y="478.71" width="8.7" height="51.29" fill="url(#pe2)"/>
<rect x="634.1" y="386.78" width="8.7" height="143.22" fill="url(#pe0)"/>
<rect x="644.1" y="481.18" width="8.7" height="48.82" fill="url(#pe1)"/>
<rect x="654.1" y="491.07" width="8.7" height="38.93" fill="url(#pe2)"/>
<circle cx="405.75" cy="373.49" r="2.1" fill="#000" stroke="#000" stroke-width="1.05"/>
<circle cx="403.05" cy="372.1" r="2.1" fill="#fff" stroke="#000" stroke-width="1.05"/>
<circle cx="407.65" cy="375.19" r="2.1" fill="#fff" stroke="#000" stroke-width="1.05"/>
<circle cx="403.05" cy="378.59" r="2.1" fill="#fff" stroke="#000" stroke-width="1.05"/>
<circle cx="415.75" cy="373.49" r="2.1" fill="#4a4af4" stroke="#000" stroke-width="1.05"/>
<circle cx="413.05" cy="372.1" r="2.1" fill="#fff" stroke="#000" stroke-width="1.05"/>
<circle cx="417.65" cy="375.19" r="2.1" fill="#fff" stroke="#000" stroke-width="1.05"/>
<circle cx="413.05" cy="378.59" r="2.1" fill="#fff" stroke="#000" stroke-width="1.05"/>
<circle cx="425.75" cy="373.49" r="2.1" fill="#00007e" stroke="#000" stroke-width="1.05"/>
<circle cx="423.05" cy="372.1" r="2.1" fill="#fff" stroke="#000" stroke-width="1.05"/>
<circle cx="427.65" cy="375.19" r="2.1" fill="#fff" stroke="#000" stroke-width="1.05"/>
<circle cx="423.05" cy="378.59" r="2.1" fill="#fff" stroke="#000" stroke-width="1.05"/>
<circle cx="444.2" cy="382.61" r="2.1" fill="#000" stroke="#000" stroke-width="1.05"/>
<circle cx="444.5" cy="386.78" r="2.1" fill="#fff" stroke="#000" stroke-width="1.05"/>
<circle cx="444" cy="390.95" r="2.1" fill="#fff" stroke="#000" stroke-width="1.05"/>
<circle cx="454.4" cy="393.27" r="2.1" fill="#4a4af4" stroke="#000" stroke-width="1.05"/>
<circle cx="452" cy="395.59" r="2.1" fill="#fff" stroke="#000" stroke-width="1.05"/>
<circle cx="456.4" cy="396.05" r="2.1" fill="#fff" stroke="#000" stroke-width="1.05"/>
<circle cx="464.2" cy="388.32" r="2.1" fill="#00007e" stroke="#000" stroke-width="1.05"/>
<circle cx="464.5" cy="392.5" r="2.1" fill="#fff" stroke="#000" stroke-width="1.05"/>
<circle cx="464" cy="396.67" r="2.1" fill="#fff" stroke="#000" stroke-width="1.05"/>
<circle cx="483.25" cy="384.31" r="2.1" fill="#fff" stroke="#000" stroke-width="1.05"/>
<circle cx="480.85" cy="386.62" r="2.1" fill="#fff" stroke="#000" stroke-width="1.05"/>
<circle cx="485.25" cy="387.09" r="2.1" fill="#fff" stroke="#000" stroke-width="1.05"/>
<circle cx="493.05" cy="406.86" r="2.1" fill="#4a4af4" stroke="#000" stroke-width="1.05"/>
<circle cx="493.35" cy="411.04" r="2.1" fill="#fff" stroke="#000" stroke-width="1.05"/>
<circle cx="492.85" cy="415.21" r="2.1" fill="#fff" stroke="#000" stroke-width="1.05"/>
<circle cx="503.25" cy="452.9" r="2.1" fill="#00007e" stroke="#000" stroke-width="1.05"/>
<circle cx="500.85" cy="455.22" r="2.1" fill="#fff" stroke="#000" stroke-width="1.05"/>
<circle cx="505.25" cy="455.69" r="2.1" fill="#fff" stroke="#000" stroke-width="1.05"/>
<circle cx="522.3" cy="396.51" r="2.1" fill="#fff" stroke="#000" stroke-width="1.05"/>
<circle cx="519.6" cy="395.12" r="2.1" fill="#fff" stroke="#000" stroke-width="1.05"/>
<circle cx="524.2" cy="398.21" r="2.1" fill="#fff" stroke="#000" stroke-width="1.05"/>
<circle cx="519.6" cy="401.61" r="2.1" fill="#fff" stroke="#000" stroke-width="1.05"/>
<circle cx="531.9" cy="390.49" r="2.1" fill="#4a4af4" stroke="#000" stroke-width="1.05"/>
<circle cx="532.2" cy="394.66" r="2.1" fill="#fff" stroke="#000" stroke-width="1.05"/>
<circle cx="531.7" cy="398.83" r="2.1" fill="#fff" stroke="#000" stroke-width="1.05"/>
<circle cx="541.9" cy="460.01" r="2.1" fill="#00007e" stroke="#000" stroke-width="1.05"/>
<circle cx="542.2" cy="464.18" r="2.1" fill="#fff" stroke="#000" stroke-width="1.05"/>
<circle cx="541.7" cy="468.35" r="2.1" fill="#fff" stroke="#000" stroke-width="1.05"/>
<circle cx="560.95" cy="391.88" r="2.1" fill="#fff" stroke="#000" stroke-width="1.05"/>
<circle cx="558.55" cy="394.19" r="2.1" fill="#fff" stroke="#000" stroke-width="1.05"/>
<circle cx="562.95" cy="394.66" r="2.1" fill="#fff" stroke="#000" stroke-width="1.05"/>
<circle cx="570.95" cy="456.3" r="2.1" fill="#4a4af4" stroke="#000" stroke-width="1.05"/>
<circle cx="568.55" cy="458.62" r="2.1" fill="#fff" stroke="#000" stroke-width="1.05"/>
<circle cx="572.95" cy="459.08" r="2.1" fill="#fff" stroke="#000" stroke-width="1.05"/>
<circle cx="580.95" cy="475.62" r="2.1" fill="#00007e" stroke="#000" stroke-width="1.05"/>
<circle cx="578.55" cy="477.93" r="2.1" fill="#fff" stroke="#000" stroke-width="1.05"/>
<circle cx="582.95" cy="478.4" r="2.1" fill="#fff" stroke="#000" stroke-width="1.05"/>
<circle cx="599.8" cy="389.1" r="2.1" fill="#fff" stroke="#000" stroke-width="1.05"/>
<circle cx="597.4" cy="391.41" r="2.1" fill="#fff" stroke="#000" stroke-width="1.05"/>
<circle cx="601.8" cy="391.88" r="2.1" fill="#fff" stroke="#000" stroke-width="1.05"/>
<circle cx="609.6" cy="477.62" r="2.1" fill="#4a4af4" stroke="#000" stroke-width="1.05"/>
<circle cx="609.9" cy="481.8" r="2.1" fill="#fff" stroke="#000" stroke-width="1.05"/>
<circle cx="609.4" cy="485.97" r="2.1" fill="#fff" stroke="#000" stroke-width="1.05"/>
<circle cx="619.8" cy="476.23" r="2.1" fill="#00007e" stroke="#000" stroke-width="1.05"/>
<circle cx="617.4" cy="478.55" r="2.1" fill="#fff" stroke="#000" stroke-width="1.05"/>
<circle cx="621.8" cy="479.01" r="2.1" fill="#fff" stroke="#000" stroke-width="1.05"/>
<circle cx="638.65" cy="384.31" r="2.1" fill="#fff" stroke="#000" stroke-width="1.05"/>
<circle cx="636.25" cy="386.62" r="2.1" fill="#fff" stroke="#000" stroke-width="1.05"/>
<circle cx="640.65" cy="387.09" r="2.1" fill="#fff" stroke="#000" stroke-width="1.05"/>
<circle cx="648.45" cy="476.54" r="2.1" fill="#4a4af4" stroke="#000" stroke-width="1.05"/>
<circle cx="648.75" cy="480.71" r="2.1" fill="#fff" stroke="#000" stroke-width="1.05"/>
<circle cx="648.25" cy="484.89" r="2.1" fill="#fff" stroke="#000" stroke-width="1.05"/>
<circle cx="658.65" cy="488.59" r="2.1" fill="#00007e" stroke="#000" stroke-width="1.05"/>
<circle cx="656.25" cy="490.91" r="2.1" fill="#fff" stroke="#000" stroke-width="1.05"/>
<circle cx="660.65" cy="491.38" r="2.1" fill="#fff" stroke="#000" stroke-width="1.05"/>
<path d="M392.9 344.8 H670.8 V530 H392.9 Z" fill="none" stroke="#000" stroke-width="1.9"/>
<path d="M392.9 530H400.8 M392.9 499.1H400.8 M392.9 468.2H400.8 M392.9 437.3H400.8 M392.9 406.4H400.8 M392.9 375.5H400.8 M392.9 344.6H400.8" stroke="#000" stroke-width="1.6"/>
<text x="389.3" y="534.2" font-size="11.8" fill="#000" text-anchor="end" style="font-family:'Liberation Sans',sans-serif;font-weight:bold" >0</text>
<text x="389.3" y="503.3" font-size="11.8" fill="#000" text-anchor="end" style="font-family:'Liberation Sans',sans-serif;font-weight:bold" >20</text>
<text x="389.3" y="472.4" font-size="11.8" fill="#000" text-anchor="end" style="font-family:'Liberation Sans',sans-serif;font-weight:bold" >40</text>
<text x="389.3" y="441.5" font-size="11.8" fill="#000" text-anchor="end" style="font-family:'Liberation Sans',sans-serif;font-weight:bold" >60</text>
<text x="389.3" y="410.6" font-size="11.8" fill="#000" text-anchor="end" style="font-family:'Liberation Sans',sans-serif;font-weight:bold" >80</text>
<text x="389.3" y="379.7" font-size="11.8" fill="#000" text-anchor="end" style="font-family:'Liberation Sans',sans-serif;font-weight:bold" >100</text>
<text x="389.3" y="348.8" font-size="11.8" fill="#000" text-anchor="end" style="font-family:'Liberation Sans',sans-serif;font-weight:bold" >120</text>
<text x="415.3" y="544.7" font-size="12.2" fill="#000" text-anchor="middle" style="font-family:'Liberation Sans',sans-serif;font-weight:bold" >0</text>
<text x="454.15" y="544.7" font-size="12.2" fill="#000" text-anchor="middle" style="font-family:'Liberation Sans',sans-serif;font-weight:bold" >10</text>
<text x="493" y="544.7" font-size="12.2" fill="#000" text-anchor="middle" style="font-family:'Liberation Sans',sans-serif;font-weight:bold" >20</text>
<text x="531.85" y="544.7" font-size="12.2" fill="#000" text-anchor="middle" style="font-family:'Liberation Sans',sans-serif;font-weight:bold" >30</text>
<text x="570.7" y="544.7" font-size="12.2" fill="#000" text-anchor="middle" style="font-family:'Liberation Sans',sans-serif;font-weight:bold" >40</text>
<text x="609.55" y="544.7" font-size="12.2" fill="#000" text-anchor="middle" style="font-family:'Liberation Sans',sans-serif;font-weight:bold" >50</text>
<text x="648.4" y="544.7" font-size="12.2" fill="#000" text-anchor="middle" style="font-family:'Liberation Sans',sans-serif;font-weight:bold" >60</text>
<text x="477" y="565.5" font-size="17.2" fill="#000" text-anchor="start" style="font-family:'Liberation Sans',sans-serif;font-weight:bold" textLength="110.4" lengthAdjust="spacingAndGlyphs" >Con. (μg/mL)</text>
<text transform="translate(363.2 506.3) rotate(-90)" x="0" y="0" style="font-family:'Liberation Sans',sans-serif;font-weight:bold" font-size="17.1" textLength="137" lengthAdjust="spacingAndGlyphs">Cell Viability (%)</text>
<rect x="426" y="350.5" width="19.8" height="9.3" fill="url(#pe0)"/>
<text x="457.8" y="360.6" font-size="14.5" fill="#000" text-anchor="start" style="font-family:'Liberation Serif',serif;font-weight:bold" textLength="4.2" lengthAdjust="spacingAndGlyphs" >I</text>
<rect x="506.8" y="350.5" width="19.8" height="9.3" fill="url(#pe1)"/>
<text x="538.3" y="360.6" font-size="14.5" fill="#000" text-anchor="start" style="font-family:'Liberation Serif',serif;font-weight:bold" textLength="10.5" lengthAdjust="spacingAndGlyphs" >II</text>
<rect x="593.6" y="350.5" width="19.8" height="9.3" fill="url(#pe2)"/>
<text x="625.2" y="360.6" font-size="14.5" fill="#000" text-anchor="start" style="font-family:'Liberation Serif',serif;font-weight:bold" textLength="17.6" lengthAdjust="spacingAndGlyphs" >III</text>
<path d="M493.2 402.7V394.2H503.1V451.5 M531 384.1V375.9H541.4V460" stroke="#000" stroke-width="2.4" fill="none"/>
<path d="M491.3 386L491.3 392M488.7 387.5L493.9 390.5M493.9 387.5L488.7 390.5" stroke="#4a4a4a" stroke-width="1.6"/>
<path d="M498.87 386L498.87 392M496.27 387.5L501.46 390.5M501.46 387.5L496.27 390.5" stroke="#4a4a4a" stroke-width="1.6"/>
<path d="M506.43 386L506.43 392M503.84 387.5L509.03 390.5M509.03 387.5L503.84 390.5" stroke="#4a4a4a" stroke-width="1.6"/>
<path d="M514 386L514 392M511.4 387.5L516.6 390.5M516.6 387.5L511.4 390.5" stroke="#4a4a4a" stroke-width="1.6"/>
<path d="M525.8 366.6L525.8 372.6M523.2 368.1L528.4 371.1M528.4 368.1L523.2 371.1" stroke="#4a4a4a" stroke-width="1.6"/>
<path d="M533.3 366.6L533.3 372.6M530.7 368.1L535.9 371.1M535.9 368.1L530.7 371.1" stroke="#4a4a4a" stroke-width="1.6"/>
<path d="M540.8 366.6L540.8 372.6M538.2 368.1L543.4 371.1M543.4 368.1L538.2 371.1" stroke="#4a4a4a" stroke-width="1.6"/>
<path d="M548.3 366.6L548.3 372.6M545.7 368.1L550.9 371.1M550.9 368.1L545.7 371.1" stroke="#4a4a4a" stroke-width="1.6"/>
</svg>
</body></html>
